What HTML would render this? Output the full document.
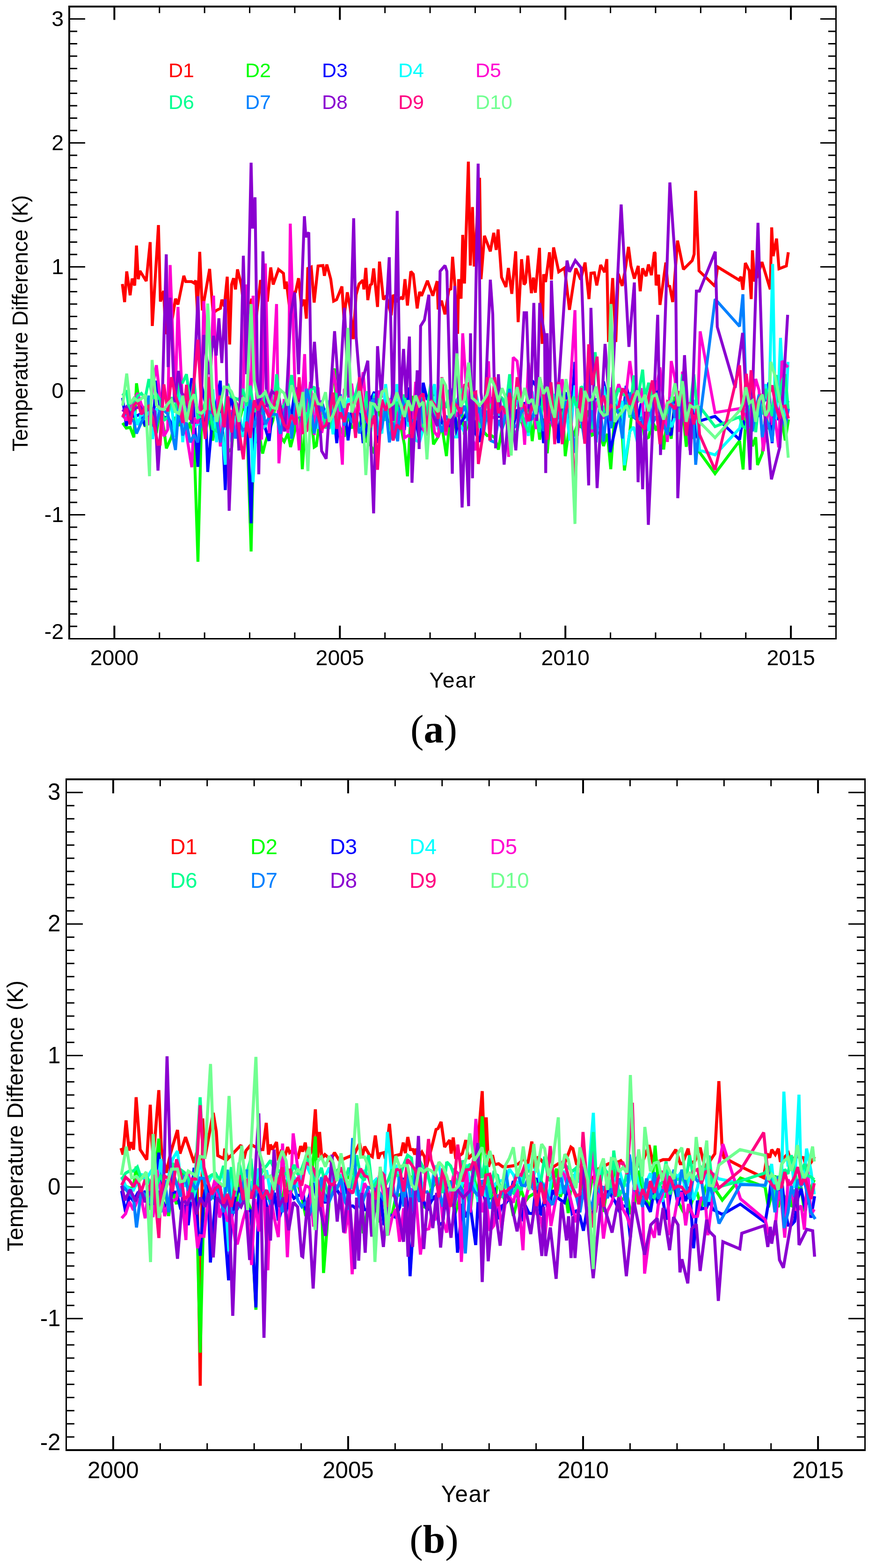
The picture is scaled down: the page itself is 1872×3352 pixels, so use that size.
<!DOCTYPE html>
<html><head><meta charset="utf-8"><title>Temperature Difference</title>
<style>html,body{margin:0;padding:0;background:#fff;} svg{display:block;}</style></head>
<body>
<svg width="1872" height="3352" viewBox="0 0 1872 3352"><polyline points="261.5,607.2 266.3,645.8 270.8,580.1 278.1,631.2 282.3,595.7 287.9,610.3 291.7,524.9 295.4,596.8 299.0,579.1 312.5,600.9 320.9,517.6 325.5,696.8 338.6,481.1 342.8,644.7 349.6,621.8 354.2,713.5 365.7,696.8 375.1,638.5 380.3,651.0 392.8,589.5 397.0,602.0 409.5,602.0 414.7,605.1 418.4,599.9 422.0,669.7 426.8,538.4 432.4,663.5 448.0,574.9 455.3,669.7 462.6,663.5 471.0,659.3 474.1,640.5 479.3,655.1 485.6,591.6 490.8,736.4 494.9,608.2 499.1,594.7 503.3,618.7 507.5,575.9 515.8,609.3 521.0,659.3 531.4,669.7 537.7,638.5 542.1,721.8 552.5,638.5 556.7,598.9 571.3,644.7 578.6,571.8 583.8,608.2 595.2,575.9 605.7,584.3 608.8,617.6 611.9,602.0 619.2,661.4 623.4,626.0 631.7,623.9 638.0,594.7 644.2,655.1 650.5,640.5 654.7,681.2 657.8,573.8 665.1,570.7 671.3,646.8 679.7,568.6 690.1,567.6 693.2,589.5 698.4,565.5 706.8,596.8 713.0,643.7 719.3,640.5 730.7,612.4 734.9,680.2 742.2,624.9 748.5,659.3 754.7,725.0 761.0,630.1 767.2,607.2 775.6,598.9 777.6,618.7 781.8,572.8 786.0,641.6 791.2,609.3 794.3,607.2 798.5,573.8 806.8,656.2 811.0,559.2 819.3,640.5 825.6,632.2 836.0,673.9 840.4,630.2 848.8,642.7 857.1,636.4 861.3,639.6 865.4,596.8 870.7,653.1 877.9,580.2 883.2,586.4 891.5,659.4 896.7,623.9 900.9,632.3 913.4,600.0 924.9,632.3 934.2,601.0 936.3,661.5 943.6,642.7 950.9,671.9 959.2,619.8 963.4,617.7 967.2,548.9 971.8,607.3 978.0,713.6 980.1,596.8 985.3,638.5 988.8,502.0 992.6,606.2 1000.9,345.6 1005.1,567.6 1009.7,442.6 1013.4,569.7 1024.9,380.0 1028.0,596.8 1035.3,504.1 1047.8,537.4 1055.1,497.8 1060.4,534.3 1064.5,490.5 1071.8,592.7 1081.2,613.5 1086.4,572.9 1093.7,628.1 1102.0,537.4 1107.3,688.6 1114.6,554.1 1119.8,608.3 1123.1,603.9 1127.9,546.6 1135.6,626.8 1139.8,593.5 1144.0,625.8 1152.9,529.9 1158.6,735.2 1161.7,586.2 1165.9,602.9 1174.2,539.3 1178.4,597.6 1183.0,528.9 1194.0,581.0 1206.5,572.6 1216.9,662.3 1230.5,573.7 1240.9,597.6 1250.3,561.2 1258.6,639.3 1262.8,584.1 1270.1,583.1 1275.3,610.2 1283.6,566.4 1292.0,582.0 1296.8,553.9 1300.3,731.1 1309.3,594.5 1316.0,731.1 1321.2,585.1 1329.5,611.2 1335.8,578.9 1343.1,527.8 1348.3,568.5 1355.6,595.6 1363.9,568.5 1368.1,622.7 1373.3,573.7 1380.6,590.4 1385.8,565.3 1392.0,588.3 1398.3,539.3 1400.0,541.4 1402.1,610.2 1407.3,587.2 1410.4,651.8 1422.9,561.2 1427.1,610.2 1431.3,612.2 1437.5,645.6 1440.7,610.2 1447.9,514.3 1460.5,575.8 1479.2,557.0 1483.4,543.4 1486.5,407.9 1493.8,578.9 1528.2,612.2 1533.4,570.5 1579.3,598.7 1583.4,591.4 1587.6,619.5 1592.8,562.2 1601.2,578.9 1605.3,639.3 1608.0,535.1 1612.6,601.8 1618.9,589.3 1628.3,560.1 1646.0,618.5 1649.1,486.1 1652.2,547.6 1659.5,510.1 1664.7,574.7 1680.4,568.5 1684.6,539.3" fill="none" stroke="#ff0000" stroke-width="6.2" stroke-linejoin="miter" stroke-miterlimit="2" stroke-linecap="butt"/>
<polyline points="262.0,904.1 270.0,915.2 278.1,913.5 286.1,935.0 291.7,819.5 302.1,889.3 310.2,912.1 318.2,880.4 326.2,897.4 334.3,926.1 342.3,873.4 350.3,917.7 355.6,958.5 366.4,934.3 374.4,891.4 382.4,910.5 390.5,888.3 398.5,928.0 406.5,902.7 414.6,937.8 423.0,1201.0 430.6,900.6 438.7,895.7 446.7,892.9 454.7,941.9 462.7,880.1 470.8,845.0 478.8,963.5 486.8,966.6 494.9,958.9 502.9,878.1 510.9,902.6 519.0,869.9 527.0,882.2 536.6,1179.0 543.0,897.3 551.1,912.9 561.3,969.6 567.1,946.0 575.2,921.6 583.2,898.7 591.2,845.0 599.3,933.4 607.3,944.2 615.3,926.5 621.0,955.7 631.4,915.1 639.4,861.4 646.0,1003.0 655.5,868.2 663.5,871.4 671.5,955.9 676.0,953.0 687.6,865.2 695.6,904.0 703.6,872.6 715.0,787.6 719.7,897.6 727.7,916.7 735.8,933.6 743.8,884.7 751.8,913.8 759.9,913.2 767.9,910.7 775.9,884.7 783.9,943.8 790.0,947.4 800.0,969.1 808.0,865.8 816.1,904.5 824.1,855.0 832.1,907.4 840.2,932.6 848.2,890.6 856.2,909.7 864.2,950.3 870.7,1018.3 880.3,846.2 888.3,894.8 896.4,892.7 904.4,916.6 912.4,930.8 920.5,876.3 926.3,950.0 936.5,933.2 944.5,911.7 954.0,975.0 960.6,900.5 968.6,868.1 976.7,935.9 984.7,857.8 992.7,930.0 1000.8,901.8 1008.8,935.9 1016.8,914.7 1024.8,905.4 1032.9,922.0 1040.9,931.3 1048.9,930.4 1057.0,935.3 1065.0,961.1 1073.0,916.1 1081.1,893.2 1089.1,875.8 1097.1,884.8 1105.1,845.0 1113.2,896.1 1121.2,922.8 1129.2,845.0 1137.3,943.1 1145.3,873.7 1153.3,940.0 1161.4,894.9 1169.4,969.1 1177.4,876.1 1185.4,912.5 1193.5,940.4 1201.5,849.2 1207.9,975.2 1217.6,905.5 1225.6,932.7 1233.6,908.5 1241.7,912.7 1249.7,882.1 1257.7,879.6 1265.7,930.1 1273.8,926.0 1281.8,925.4 1289.8,953.5 1297.9,927.4 1305.2,1003.0 1313.9,883.2 1322.0,861.6 1330.0,934.9 1334.4,1005.8 1346.0,922.4 1354.1,845.0 1362.1,908.7 1370.1,889.8 1378.2,939.3 1386.2,935.0 1394.2,900.1 1402.3,920.3 1410.3,894.9 1418.3,960.9 1426.3,884.2 1434.4,938.0 1442.4,847.7 1450.4,917.0 1458.5,869.2 1466.5,955.1 1474.5,892.3 1482.6,937.6 1490.6,923.8 1495.0,966.8 1528.0,1012.4 1580.5,942.3 1588.0,1003.5 1594.0,884.6 1601.0,910.1 1608.0,954.0 1615.0,934.8 1618.8,994.0 1629.0,969.1 1636.0,881.1 1643.0,915.3 1650.0,915.7 1657.0,874.4 1664.0,884.0 1671.0,899.4 1678.0,941.5 1685.0,896.4" fill="none" stroke="#00ff00" stroke-width="6.2" stroke-linejoin="miter" stroke-miterlimit="2" stroke-linecap="butt"/>
<polyline points="262.0,850.5 270.0,910.6 278.1,873.6 286.1,890.0 294.1,888.1 302.1,884.1 310.2,910.6 318.2,889.2 326.2,912.6 334.3,813.8 342.3,872.2 350.3,893.6 358.4,891.0 366.4,905.3 374.4,919.7 382.4,895.0 390.5,862.7 398.5,889.4 409.8,808.4 414.6,888.0 423.0,998.0 430.6,823.2 438.7,860.3 443.9,1009.0 454.7,887.3 462.7,860.5 470.8,813.8 481.4,1047.7 486.8,889.6 494.9,843.4 502.9,913.4 510.9,891.4 519.0,847.8 527.0,859.0 536.6,1118.6 543.0,855.7 551.1,947.3 559.1,842.7 567.1,916.2 575.2,942.5 583.2,870.3 591.2,854.6 599.3,897.1 607.3,920.5 615.3,879.6 623.3,882.5 631.4,828.4 639.4,852.8 647.4,873.4 655.5,839.3 663.5,888.2 671.5,914.9 679.6,858.9 687.6,858.9 695.6,888.5 703.6,909.6 711.7,872.0 719.7,947.3 727.7,854.9 735.8,862.3 743.8,941.4 751.8,878.3 759.9,916.3 767.9,852.5 775.9,947.3 783.9,914.5 792.0,854.2 800.0,837.6 808.0,947.3 816.1,899.0 824.1,868.4 832.1,903.2 840.2,821.5 848.2,924.7 856.2,867.4 864.2,919.4 872.3,828.4 880.3,881.4 888.3,894.4 896.4,944.3 904.4,818.2 912.4,852.6 920.5,852.6 928.5,838.3 936.5,867.6 944.5,904.3 952.6,910.2 960.6,910.2 968.6,829.7 976.7,934.7 984.7,902.7 992.7,892.5 1000.8,872.2 1008.8,859.2 1016.8,926.9 1024.8,944.7 1032.9,880.7 1040.9,835.5 1048.9,852.5 1057.0,872.5 1065.0,892.3 1073.0,869.7 1081.1,889.6 1089.1,850.2 1097.1,910.0 1105.1,875.6 1113.2,884.7 1121.2,860.4 1129.2,872.2 1137.3,813.8 1145.3,824.9 1153.3,825.0 1161.4,947.3 1169.4,893.2 1177.4,903.1 1185.4,860.8 1193.5,947.3 1201.5,837.0 1209.5,841.0 1217.6,928.9 1228.7,773.7 1233.6,910.3 1241.7,878.9 1249.7,856.8 1257.7,813.8 1265.7,887.9 1273.8,852.1 1281.8,874.8 1289.8,815.3 1297.9,853.0 1303.8,966.9 1313.9,920.5 1322.0,887.7 1330.0,910.7 1338.0,824.7 1346.0,856.2 1354.1,891.9 1362.1,897.3 1370.1,862.6 1378.2,906.6 1386.2,915.1 1394.2,862.7 1402.3,813.8 1410.3,889.7 1418.3,901.2 1426.3,924.0 1434.4,930.1 1442.4,861.1 1450.4,849.0 1458.5,880.2 1466.5,868.2 1474.5,876.2 1482.6,875.4 1490.6,937.2 1495.0,900.0 1528.0,890.0 1580.5,940.0 1587.0,898.2 1594.0,910.9 1601.0,892.9 1608.0,848.9 1615.0,895.6 1622.0,886.3 1629.0,850.4 1636.0,856.6 1643.0,817.7 1650.0,947.3 1657.0,848.8 1664.0,898.4 1671.0,875.6 1678.0,849.5 1684.5,860.7" fill="none" stroke="#0000ff" stroke-width="6.2" stroke-linejoin="miter" stroke-miterlimit="2" stroke-linecap="butt"/>
<polyline points="262.0,893.3 270.0,885.9 278.1,857.4 286.1,873.0 294.1,908.6 302.1,883.3 310.2,892.9 318.2,878.1 326.2,938.6 334.3,874.9 342.3,875.1 350.3,828.9 358.4,872.3 366.4,865.6 374.4,934.6 382.4,821.2 390.5,945.2 398.5,845.2 406.5,894.6 414.6,913.5 422.6,905.8 430.6,906.4 438.7,870.1 446.7,887.0 454.7,832.1 462.7,945.2 470.8,883.3 481.4,993.5 486.8,856.5 494.9,945.2 502.9,895.0 510.9,876.0 519.0,934.3 527.0,849.3 535.0,877.0 540.8,1031.0 551.1,850.2 559.1,917.0 567.1,910.7 575.2,890.2 583.2,857.4 591.2,853.9 599.3,907.6 607.3,904.1 615.3,910.7 623.3,903.3 631.4,891.4 639.4,887.7 647.4,821.2 655.5,900.6 663.5,893.1 671.5,867.4 679.6,916.0 687.6,895.9 695.6,882.7 703.6,856.5 711.7,928.5 719.7,836.0 727.7,895.3 735.8,877.4 743.8,854.0 751.8,860.4 759.9,846.7 767.9,877.2 775.9,883.9 783.9,872.3 792.0,917.5 800.0,841.4 808.0,909.9 816.1,926.6 824.1,821.2 832.1,887.9 840.2,923.8 848.2,821.2 856.2,894.6 864.2,846.6 872.3,911.8 880.3,891.8 888.3,941.4 896.4,945.2 904.4,916.8 912.4,885.9 920.5,855.7 928.5,821.2 936.5,918.7 944.5,848.4 952.6,904.0 960.6,888.5 968.6,934.2 976.7,934.2 984.7,910.0 992.7,924.3 1000.8,883.3 1008.8,907.4 1016.8,840.1 1024.8,877.9 1032.9,877.5 1040.9,844.0 1048.9,865.4 1057.0,884.5 1065.0,886.3 1073.0,887.4 1081.1,846.1 1089.1,856.2 1097.1,870.6 1105.1,855.7 1113.2,902.0 1121.2,865.6 1129.2,931.9 1137.3,836.8 1145.3,880.1 1153.3,876.9 1161.4,862.6 1169.4,883.5 1177.4,892.0 1185.4,842.2 1193.5,879.2 1201.5,914.8 1209.5,868.1 1217.6,941.9 1228.7,823.7 1233.6,889.1 1241.7,881.6 1249.7,821.2 1257.7,821.2 1265.7,879.2 1273.8,861.7 1281.8,845.6 1289.8,825.3 1297.9,887.7 1305.9,878.5 1313.9,841.0 1322.0,873.9 1330.0,857.2 1334.4,994.6 1346.0,922.3 1354.1,912.8 1362.1,945.2 1370.1,892.2 1378.2,837.1 1386.2,921.4 1394.2,840.7 1402.3,848.8 1410.3,885.1 1418.3,883.5 1426.3,880.3 1434.4,912.9 1442.4,892.9 1450.4,884.8 1458.5,862.1 1466.5,855.9 1474.5,908.8 1482.6,854.8 1490.6,910.0 1495.0,962.4 1528.0,972.4 1580.5,915.7 1587.0,887.6 1594.0,873.9 1601.0,902.2 1608.0,905.7 1615.0,890.2 1622.0,850.1 1629.0,886.7 1636.0,821.2 1643.0,875.8 1651.2,564.3 1657.0,898.3 1664.0,825.8 1667.9,722.3 1678.0,898.3 1684.0,773.6" fill="none" stroke="#00ffff" stroke-width="6.2" stroke-linejoin="miter" stroke-miterlimit="2" stroke-linecap="butt"/>
<polyline points="262.0,886.4 270.0,898.9 278.1,873.2 286.1,857.3 294.1,840.2 302.1,864.7 310.2,880.5 318.2,908.9 326.2,827.6 334.3,780.7 342.3,852.8 350.3,932.7 358.4,918.1 363.6,566.5 374.4,856.5 380.3,656.2 390.5,871.7 398.5,929.0 409.8,998.8 414.6,893.2 422.6,905.1 430.6,838.0 435.5,643.7 446.7,898.5 456.4,632.2 462.7,823.3 470.8,954.4 478.8,880.9 486.8,919.3 494.9,876.5 502.9,935.6 510.9,866.2 519.0,869.3 525.2,608.2 535.0,922.8 540.8,632.2 551.1,925.1 559.1,939.1 567.1,563.4 575.2,926.1 583.2,805.3 591.0,650.0 596.0,990.5 607.3,852.9 615.3,925.7 620.3,478.0 631.4,865.0 639.4,962.7 651.0,757.0 655.5,880.9 663.5,816.3 671.5,929.9 679.6,828.2 687.6,925.5 695.6,884.9 703.6,911.8 711.7,790.5 719.7,837.2 731.7,993.3 735.8,833.3 743.8,822.5 751.8,822.7 759.9,899.5 767.9,871.0 775.9,795.7 783.9,888.3 792.0,857.3 800.0,868.4 808.0,835.0 816.1,886.6 824.1,875.4 832.1,854.5 840.2,861.8 848.2,913.1 856.2,819.8 864.2,936.1 872.3,931.0 880.3,935.3 888.3,816.1 896.4,886.4 904.4,918.8 912.4,927.5 920.5,845.0 928.5,923.2 936.5,934.7 944.5,834.8 952.6,930.7 960.6,884.4 968.6,867.7 976.7,890.9 984.7,870.2 988.8,712.5 1000.8,894.7 1008.8,934.0 1016.8,962.7 1024.8,878.2 1032.9,886.0 1043.9,772.3 1048.9,891.9 1057.0,892.7 1065.0,905.5 1073.0,894.8 1081.1,858.8 1087.0,976.6 1096.7,764.0 1105.1,771.9 1113.2,841.9 1121.2,950.8 1129.2,775.4 1137.3,848.9 1145.3,917.2 1153.3,819.2 1161.4,866.4 1169.4,899.9 1177.4,900.9 1185.4,920.0 1193.5,864.7 1201.5,810.7 1209.5,884.5 1217.6,845.0 1228.7,663.0 1233.6,931.7 1241.7,853.7 1249.7,883.5 1257.7,923.4 1265.7,921.7 1273.8,868.1 1281.8,844.3 1289.8,895.5 1297.9,864.4 1305.9,829.0 1313.9,851.6 1322.0,821.3 1330.0,842.8 1338.0,841.4 1346.0,771.9 1354.1,834.3 1362.1,860.4 1370.1,829.7 1378.2,916.0 1386.2,885.2 1394.2,825.3 1402.3,833.9 1410.3,785.2 1418.3,866.7 1426.3,944.8 1434.4,771.9 1442.4,809.4 1450.4,923.4 1458.5,794.4 1466.5,865.6 1474.5,962.7 1482.6,889.6 1490.6,894.3 1496.2,708.4 1528.0,882.0 1580.5,873.4 1587.0,882.0 1594.0,887.4 1601.0,915.7 1608.0,855.7 1615.0,810.2 1622.0,834.2 1631.0,964.6 1636.0,928.2 1643.0,861.0 1650.0,904.7 1657.0,900.7 1664.0,956.3 1671.0,771.9 1679.0,780.0 1684.0,785.0" fill="none" stroke="#ff00d0" stroke-width="6.2" stroke-linejoin="miter" stroke-miterlimit="2" stroke-linecap="butt"/>
<polyline points="262.0,845.7 270.0,834.5 278.1,889.9 286.1,864.1 294.1,846.3 302.1,841.0 310.2,851.9 318.2,810.4 326.2,852.0 334.3,843.0 342.3,855.8 350.3,899.0 358.4,891.2 366.4,848.9 374.4,882.0 382.4,818.2 390.5,817.5 398.5,800.0 406.5,862.9 414.6,814.3 422.6,893.2 430.6,890.1 438.7,859.2 446.7,852.3 454.7,917.1 462.7,921.6 470.8,849.8 478.8,891.7 486.8,820.4 494.9,848.4 502.9,851.4 510.9,854.8 519.0,831.2 527.0,867.3 535.0,824.6 543.0,880.1 551.1,869.8 559.1,885.4 567.1,841.4 575.2,860.8 583.2,891.7 591.2,800.0 599.3,874.5 607.3,866.0 615.3,848.4 623.3,801.8 631.4,867.1 639.4,837.8 647.4,858.6 655.5,912.4 663.5,834.7 671.5,826.8 679.6,870.3 687.6,862.5 695.6,913.7 703.6,914.5 711.7,875.5 719.7,840.4 727.7,878.2 735.8,851.9 743.8,828.7 751.8,858.7 759.9,842.2 767.9,812.1 775.9,904.9 783.9,836.4 792.0,924.0 800.0,847.1 808.0,855.0 816.1,880.7 824.1,899.1 832.1,864.1 837.4,939.0 848.2,858.6 856.2,893.3 864.2,843.2 872.3,897.7 880.3,872.5 888.3,875.5 896.4,818.3 904.4,913.5 912.4,876.3 920.5,821.3 928.5,884.7 936.5,904.7 944.5,852.3 952.6,872.0 960.6,833.2 968.6,893.7 976.7,855.4 984.7,839.1 992.7,826.3 1000.8,900.1 1008.8,813.0 1016.8,893.0 1024.8,914.1 1032.9,894.9 1040.9,856.7 1048.9,873.1 1057.0,846.8 1065.0,844.9 1073.0,851.0 1081.1,870.8 1089.1,800.0 1097.1,924.0 1105.1,921.7 1113.2,879.5 1121.2,905.2 1129.2,924.0 1137.3,889.4 1145.3,887.8 1153.3,924.0 1161.4,832.4 1169.4,817.2 1177.4,819.5 1185.4,879.5 1193.5,856.9 1201.5,900.6 1209.5,854.9 1217.6,885.2 1225.6,847.9 1233.6,873.8 1241.7,826.4 1249.7,833.5 1257.7,819.3 1265.7,917.3 1271.8,752.8 1281.8,848.1 1289.8,881.9 1297.9,848.3 1305.9,851.7 1313.9,855.8 1322.0,830.3 1330.0,842.8 1338.0,845.7 1346.0,892.8 1354.1,802.6 1362.1,857.6 1373.3,790.3 1378.2,850.7 1386.2,818.3 1394.2,856.7 1402.3,854.5 1410.3,857.3 1418.3,886.4 1426.3,881.7 1434.4,867.1 1442.4,866.0 1450.4,895.9 1458.5,800.0 1466.5,895.8 1474.5,872.5 1482.6,800.0 1490.6,884.7 1495.0,869.0 1528.0,912.0 1580.5,891.2 1587.0,911.2 1594.0,915.5 1601.0,862.3 1608.0,847.5 1615.0,924.0 1622.0,856.7 1629.0,884.5 1636.0,831.2 1643.0,855.9 1650.0,889.6 1658.8,801.7 1664.0,860.3 1671.0,815.5 1678.0,800.0 1684.5,876.0" fill="none" stroke="#00ff90" stroke-width="6.2" stroke-linejoin="miter" stroke-miterlimit="2" stroke-linecap="butt"/>
<polyline points="262.0,888.5 270.0,884.2 278.1,892.4 286.1,901.2 291.7,926.8 302.1,902.7 310.2,887.6 318.2,845.9 326.2,904.2 334.3,908.2 342.3,872.9 350.3,877.2 358.4,885.1 366.4,918.1 375.0,962.0 382.4,866.4 390.5,931.2 398.5,903.1 406.5,945.7 414.6,929.5 422.6,945.7 430.6,896.0 438.7,928.8 446.7,879.9 454.7,883.5 462.7,894.4 470.8,945.7 478.8,905.6 486.8,890.0 494.9,884.9 502.9,937.2 510.9,903.7 519.0,919.6 527.0,914.2 535.0,854.8 543.0,914.2 551.1,889.5 559.1,860.4 567.1,907.1 575.2,892.1 583.2,885.0 591.2,886.5 599.3,927.5 607.3,886.1 615.3,845.3 623.3,937.7 631.4,861.2 639.4,884.7 647.4,908.9 655.5,831.3 663.5,864.3 671.5,926.6 679.6,886.1 687.6,870.2 695.6,894.5 703.6,866.8 711.7,890.6 719.7,867.3 727.7,842.8 735.8,910.0 743.8,882.0 751.8,903.2 759.9,884.5 767.9,926.3 775.9,906.9 783.9,894.7 792.0,859.9 800.0,852.1 808.0,930.6 816.1,913.8 824.1,867.9 832.1,945.7 840.2,903.2 849.9,943.2 856.2,848.5 864.2,866.6 872.3,898.9 880.3,900.2 888.3,896.5 896.4,840.1 904.4,902.1 912.4,898.2 920.5,877.3 928.5,892.3 936.5,894.8 944.5,923.9 952.6,888.9 960.6,902.6 968.6,851.4 976.7,867.7 984.7,889.3 992.7,867.2 1000.8,899.3 1008.8,855.0 1016.8,888.7 1024.8,869.9 1032.9,929.6 1040.9,877.5 1048.9,942.2 1057.0,945.7 1065.0,898.2 1073.0,917.1 1081.1,883.3 1089.1,831.3 1097.1,914.9 1105.1,908.3 1113.2,882.0 1121.2,872.8 1129.2,894.1 1137.3,895.0 1145.3,866.2 1153.3,872.0 1161.4,921.4 1169.4,891.0 1177.4,887.4 1185.4,922.0 1193.5,880.2 1201.5,915.8 1209.5,857.6 1217.6,882.4 1228.7,968.2 1233.6,907.3 1241.7,892.3 1249.7,945.7 1257.7,924.5 1265.7,877.0 1273.8,945.7 1281.8,861.6 1289.8,944.0 1297.9,864.4 1305.9,915.4 1313.9,863.7 1322.0,884.3 1330.0,937.4 1338.0,848.8 1346.0,842.7 1354.1,890.6 1362.1,897.2 1370.1,893.6 1378.2,919.5 1386.2,853.6 1394.2,905.8 1402.3,890.1 1410.3,913.7 1418.3,908.4 1426.3,929.1 1434.4,848.5 1442.4,893.4 1450.4,857.8 1458.5,888.1 1466.5,910.6 1474.5,898.9 1482.6,906.3 1486.7,993.5 1495.0,900.4 1528.2,639.3 1580.5,697.7 1587.6,629.0 1594.0,835.9 1600.0,900.0 1608.0,922.0 1615.0,877.8 1622.0,843.7 1629.0,934.7 1636.0,895.1 1643.0,908.6 1650.0,944.5 1657.0,865.1 1664.0,889.2 1671.0,886.2 1678.0,912.4 1685.0,874.0" fill="none" stroke="#0080ff" stroke-width="6.2" stroke-linejoin="miter" stroke-miterlimit="2" stroke-linecap="butt"/>
<polyline points="262.0,880.0 270.0,870.0 278.0,885.0 290.0,872.0 300.0,870.0 310.0,884.0 320.0,868.0 331.0,880.0 337.6,1006.0 346.0,880.0 355.3,543.7 359.4,784.7 363.6,636.4 373.0,860.0 381.3,793.0 388.0,840.0 396.0,850.0 410.5,905.6 423.0,633.3 430.0,860.0 435.5,716.0 446.0,800.0 456.4,718.0 462.0,760.0 467.8,680.5 474.0,776.0 481.4,639.5 489.7,1092.0 498.0,880.0 505.0,860.0 510.6,963.0 520.0,546.7 527.0,800.0 536.6,347.7 539.8,488.4 545.0,421.7 553.0,1014.0 561.9,537.4 570.0,870.0 580.8,836.0 596.0,850.0 608.6,922.4 621.3,671.8 629.6,625.0 638.0,800.0 650.5,462.3 653.6,507.0 659.9,496.7 665.0,830.0 672.0,730.6 687.3,964.0 697.0,980.7 715.0,708.0 725.0,850.0 736.0,658.0 745.0,850.0 755.8,466.5 761.0,719.8 770.0,830.0 786.0,771.0 798.4,1097.5 806.8,740.0 815.0,850.0 831.8,549.9 840.0,900.0 848.8,450.9 855.0,870.0 862.4,745.9 868.0,850.0 874.9,719.5 880.4,1032.0 891.6,791.7 895.7,960.0 898.8,697.0 907.0,684.0 916.5,630.0 922.0,880.0 934.6,911.0 940.5,580.0 951.0,567.6 955.0,580.0 966.6,1012.7 971.8,611.4 987.5,1085.0 994.0,900.0 1001.4,1082.0 1005.5,712.5 1009.7,1022.4 1021.8,349.8 1027.8,839.0 1035.0,900.0 1047.8,597.9 1053.0,672.0 1059.2,958.5 1065.0,800.0 1077.3,993.3 1090.0,850.0 1102.3,962.7 1110.0,850.0 1120.0,668.5 1125.2,668.5 1133.0,900.0 1140.8,647.7 1147.0,900.0 1153.4,647.7 1163.8,718.6 1166.2,1011.3 1169.0,712.3 1174.0,900.0 1178.4,599.7 1190.0,880.0 1211.7,557.0 1217.0,581.0 1229.4,557.0 1242.0,572.6 1258.0,1037.7 1262.8,658.0 1276.0,1043.3 1293.0,735.2 1305.0,900.0 1327.4,437.1 1344.0,741.5 1355.6,603.9 1363.6,1030.8 1368.0,900.0 1373.3,1046.0 1379.0,880.0 1385.5,1122.0 1405.5,673.0 1411.5,972.6 1431.5,390.0 1443.7,568.3 1448.4,1065.0 1462.8,759.3 1475.5,972.6 1488.2,622.4 1494.6,622.4 1528.5,538.0 1532.8,698.8 1571.0,829.0 1587.0,711.6 1602.9,1004.5 1619.8,476.3 1631.5,861.0 1648.6,1024.7 1666.5,955.5 1683.2,673.0" fill="none" stroke="#8a00d0" stroke-width="6.2" stroke-linejoin="miter" stroke-miterlimit="2" stroke-linecap="butt"/>
<polyline points="262.0,892.3 270.0,873.6 278.1,907.5 286.1,866.2 294.1,857.4 302.1,886.0 310.2,870.2 318.2,867.9 326.2,893.6 337.6,949.7 342.3,949.5 350.3,821.8 358.4,879.8 366.4,806.4 374.4,845.1 382.4,866.9 390.5,904.0 398.5,822.5 406.5,898.0 414.6,815.5 423.0,726.0 430.6,870.5 438.7,938.4 446.7,806.4 454.7,881.6 462.7,893.2 470.8,845.7 478.8,913.3 486.8,847.4 494.9,924.5 502.9,856.2 510.9,919.4 520.0,982.0 527.0,901.5 535.0,936.1 543.0,855.9 551.1,877.0 559.1,857.6 567.1,874.3 575.2,892.0 583.2,876.8 591.2,836.1 599.3,885.2 607.3,908.2 615.3,916.5 623.3,886.7 631.4,907.7 639.4,806.4 647.4,924.7 655.5,920.9 663.5,890.1 671.5,852.1 679.6,888.6 687.6,916.0 695.6,910.0 703.6,891.8 711.7,839.2 719.7,916.8 727.7,881.5 735.8,902.3 743.8,865.0 751.8,862.1 759.9,936.1 767.9,806.4 775.9,870.4 783.9,898.1 792.0,913.4 800.0,888.2 806.8,1004.4 816.1,854.2 824.1,877.7 832.1,858.7 840.2,941.9 848.2,907.8 856.2,917.9 864.2,871.4 872.3,859.7 880.3,936.2 888.3,884.6 896.4,849.1 904.4,841.5 912.4,922.2 920.5,855.5 928.5,864.4 936.5,895.2 944.5,806.4 952.6,922.4 960.6,888.9 968.6,859.8 976.7,868.2 984.7,884.7 992.7,823.2 1000.8,820.4 1008.8,841.6 1016.8,838.1 1022.2,991.9 1032.9,924.2 1040.9,806.4 1046.7,941.8 1057.0,806.4 1065.0,883.0 1073.0,868.7 1081.1,884.6 1089.1,839.8 1097.1,898.1 1105.1,806.4 1113.2,856.6 1121.2,871.0 1129.2,900.6 1137.3,866.7 1145.3,878.0 1153.3,806.4 1161.4,840.7 1169.4,939.9 1177.4,817.1 1185.4,949.5 1193.5,816.7 1201.5,949.5 1209.5,877.9 1217.6,845.6 1228.7,1061.4 1233.6,921.5 1241.7,828.9 1249.7,948.6 1258.0,736.0 1265.7,822.9 1276.0,762.5 1281.8,868.1 1289.8,845.7 1297.9,882.1 1305.9,866.9 1313.9,873.1 1322.0,869.4 1330.0,830.7 1338.0,840.8 1346.0,865.0 1354.1,841.4 1362.1,899.4 1370.1,908.3 1378.2,917.7 1386.2,846.7 1394.2,813.3 1402.3,874.5 1410.3,949.5 1418.3,898.1 1426.3,859.3 1434.4,866.1 1442.4,874.2 1450.4,838.6 1458.5,841.1 1466.5,931.2 1474.5,860.6 1482.6,907.3 1490.6,868.6 1495.0,929.0 1528.0,1004.6 1580.5,781.0 1587.0,898.0 1594.8,799.0 1601.0,856.7 1605.0,791.5 1615.0,880.6 1622.0,853.9 1628.0,842.7 1636.0,889.7 1643.5,842.7 1650.0,823.7 1657.0,865.8 1666.0,895.0 1671.0,869.4 1678.0,867.9 1685.0,894.7" fill="none" stroke="#ff0080" stroke-width="6.2" stroke-linejoin="miter" stroke-miterlimit="2" stroke-linecap="butt"/>
<polyline points="262.0,867.2 270.8,798.7 278.1,863.4 286.1,850.9 294.1,857.0 302.1,852.5 310.2,844.0 319.5,1018.0 325.0,769.5 334.3,866.0 342.3,874.1 350.3,875.6 358.4,863.2 366.4,855.4 374.4,879.8 382.4,884.1 390.5,845.9 398.5,901.8 406.5,858.7 414.6,842.8 422.6,880.2 430.6,883.5 438.7,874.2 443.9,648.9 454.7,857.5 462.7,901.8 470.8,865.3 478.8,827.2 486.8,828.0 494.9,837.4 502.9,860.4 510.9,901.8 519.0,849.6 527.0,858.7 536.6,650.0 543.0,813.2 551.1,849.2 559.1,846.7 567.1,838.0 575.2,860.8 583.2,871.7 591.2,873.6 599.3,833.7 607.3,840.7 615.3,867.0 623.3,823.5 631.4,849.2 639.4,889.6 647.4,838.0 658.0,1007.0 663.5,889.3 671.5,840.4 679.6,863.2 687.6,864.4 695.6,838.4 703.6,901.8 711.7,887.9 719.7,865.3 727.7,847.4 735.8,871.7 743.3,701.0 751.8,881.9 759.9,857.2 767.9,836.2 775.9,892.5 781.8,1015.5 792.0,861.9 800.0,864.2 808.0,878.1 816.1,837.8 824.1,832.7 832.1,869.0 840.2,863.2 848.2,838.9 856.2,865.4 864.2,891.2 872.3,855.8 880.3,878.0 888.3,845.4 896.4,867.4 904.4,859.1 912.4,982.0 920.5,857.4 928.5,870.9 936.5,880.7 944.5,808.4 952.6,824.7 960.6,893.9 968.6,881.9 976.3,755.6 984.7,869.6 992.7,853.6 1001.4,775.0 1008.8,850.6 1016.8,857.5 1024.8,866.6 1032.9,856.3 1040.9,843.8 1048.9,808.1 1057.0,825.8 1065.0,859.3 1073.0,829.8 1081.1,850.9 1092.5,973.8 1097.1,856.9 1105.1,827.7 1113.2,869.9 1121.2,829.2 1129.2,862.2 1137.3,853.3 1145.3,885.6 1153.3,806.4 1161.4,842.0 1169.4,827.3 1177.4,866.0 1185.4,892.8 1193.5,821.9 1201.5,872.9 1209.5,810.3 1217.6,858.6 1228.7,1120.0 1233.6,873.4 1241.7,900.8 1249.7,835.6 1257.7,855.9 1265.7,854.1 1273.8,826.3 1281.8,877.4 1289.8,888.4 1297.9,885.0 1305.5,649.8 1313.9,901.8 1322.0,888.1 1330.0,879.9 1338.0,866.2 1346.0,886.2 1354.1,858.0 1362.1,834.7 1370.1,860.7 1378.2,844.0 1386.2,879.4 1394.2,847.8 1402.3,843.3 1410.3,873.1 1418.3,896.9 1426.3,861.6 1434.4,857.2 1442.4,819.5 1450.4,868.4 1458.5,814.7 1466.5,901.8 1474.5,866.4 1482.6,871.5 1490.6,868.7 1495.0,902.3 1528.0,935.7 1580.5,877.9 1587.0,863.1 1594.0,827.9 1601.0,861.6 1608.0,856.3 1615.0,901.8 1622.0,856.9 1629.0,843.3 1636.0,889.0 1643.0,875.3 1647.3,773.6 1657.0,806.4 1666.5,858.0 1671.0,878.3 1678.0,901.8 1684.5,978.5" fill="none" stroke="#70ff90" stroke-width="6.2" stroke-linejoin="miter" stroke-miterlimit="2" stroke-linecap="butt"/>
<rect x="146.00" y="12.00" width="4.00" height="1355.00" fill="#000"/>
<rect x="1785.00" y="12.00" width="3.00" height="1355.00" fill="#000"/>
<rect x="146.00" y="12.00" width="1642.00" height="4.00" fill="#000"/>
<rect x="146.00" y="1364.00" width="1642.00" height="3.00" fill="#000"/>
<rect x="150.00" y="1337.50" width="15.04" height="3.00" fill="#000"/>
<rect x="1769.96" y="1337.50" width="15.04" height="3.00" fill="#000"/>
<rect x="150.00" y="1311.00" width="15.04" height="3.00" fill="#000"/>
<rect x="1769.96" y="1311.00" width="15.04" height="3.00" fill="#000"/>
<rect x="150.00" y="1284.50" width="15.04" height="3.00" fill="#000"/>
<rect x="1769.96" y="1284.50" width="15.04" height="3.00" fill="#000"/>
<rect x="150.00" y="1258.00" width="15.04" height="3.00" fill="#000"/>
<rect x="1769.96" y="1258.00" width="15.04" height="3.00" fill="#000"/>
<rect x="150.00" y="1231.50" width="15.04" height="3.00" fill="#000"/>
<rect x="1769.96" y="1231.50" width="15.04" height="3.00" fill="#000"/>
<rect x="150.00" y="1205.00" width="15.04" height="3.00" fill="#000"/>
<rect x="1769.96" y="1205.00" width="15.04" height="3.00" fill="#000"/>
<rect x="150.00" y="1178.50" width="15.04" height="3.00" fill="#000"/>
<rect x="1769.96" y="1178.50" width="15.04" height="3.00" fill="#000"/>
<rect x="150.00" y="1152.00" width="15.04" height="3.00" fill="#000"/>
<rect x="1769.96" y="1152.00" width="15.04" height="3.00" fill="#000"/>
<rect x="150.00" y="1125.50" width="15.04" height="3.00" fill="#000"/>
<rect x="1769.96" y="1125.50" width="15.04" height="3.00" fill="#000"/>
<rect x="150.00" y="1099.00" width="32.00" height="3.00" fill="#000"/>
<rect x="1753.00" y="1099.00" width="32.00" height="3.00" fill="#000"/>
<rect x="150.00" y="1072.50" width="15.04" height="3.00" fill="#000"/>
<rect x="1769.96" y="1072.50" width="15.04" height="3.00" fill="#000"/>
<rect x="150.00" y="1046.00" width="15.04" height="3.00" fill="#000"/>
<rect x="1769.96" y="1046.00" width="15.04" height="3.00" fill="#000"/>
<rect x="150.00" y="1019.50" width="15.04" height="3.00" fill="#000"/>
<rect x="1769.96" y="1019.50" width="15.04" height="3.00" fill="#000"/>
<rect x="150.00" y="993.00" width="15.04" height="3.00" fill="#000"/>
<rect x="1769.96" y="993.00" width="15.04" height="3.00" fill="#000"/>
<rect x="150.00" y="966.50" width="15.04" height="3.00" fill="#000"/>
<rect x="1769.96" y="966.50" width="15.04" height="3.00" fill="#000"/>
<rect x="150.00" y="940.00" width="15.04" height="3.00" fill="#000"/>
<rect x="1769.96" y="940.00" width="15.04" height="3.00" fill="#000"/>
<rect x="150.00" y="913.50" width="15.04" height="3.00" fill="#000"/>
<rect x="1769.96" y="913.50" width="15.04" height="3.00" fill="#000"/>
<rect x="150.00" y="887.00" width="15.04" height="3.00" fill="#000"/>
<rect x="1769.96" y="887.00" width="15.04" height="3.00" fill="#000"/>
<rect x="150.00" y="860.50" width="15.04" height="3.00" fill="#000"/>
<rect x="1769.96" y="860.50" width="15.04" height="3.00" fill="#000"/>
<rect x="150.00" y="834.00" width="32.00" height="3.00" fill="#000"/>
<rect x="1753.00" y="834.00" width="32.00" height="3.00" fill="#000"/>
<rect x="150.00" y="807.50" width="15.04" height="3.00" fill="#000"/>
<rect x="1769.96" y="807.50" width="15.04" height="3.00" fill="#000"/>
<rect x="150.00" y="781.00" width="15.04" height="3.00" fill="#000"/>
<rect x="1769.96" y="781.00" width="15.04" height="3.00" fill="#000"/>
<rect x="150.00" y="754.50" width="15.04" height="3.00" fill="#000"/>
<rect x="1769.96" y="754.50" width="15.04" height="3.00" fill="#000"/>
<rect x="150.00" y="728.00" width="15.04" height="3.00" fill="#000"/>
<rect x="1769.96" y="728.00" width="15.04" height="3.00" fill="#000"/>
<rect x="150.00" y="701.50" width="15.04" height="3.00" fill="#000"/>
<rect x="1769.96" y="701.50" width="15.04" height="3.00" fill="#000"/>
<rect x="150.00" y="675.00" width="15.04" height="3.00" fill="#000"/>
<rect x="1769.96" y="675.00" width="15.04" height="3.00" fill="#000"/>
<rect x="150.00" y="648.50" width="15.04" height="3.00" fill="#000"/>
<rect x="1769.96" y="648.50" width="15.04" height="3.00" fill="#000"/>
<rect x="150.00" y="622.00" width="15.04" height="3.00" fill="#000"/>
<rect x="1769.96" y="622.00" width="15.04" height="3.00" fill="#000"/>
<rect x="150.00" y="595.50" width="15.04" height="3.00" fill="#000"/>
<rect x="1769.96" y="595.50" width="15.04" height="3.00" fill="#000"/>
<rect x="150.00" y="569.00" width="32.00" height="3.00" fill="#000"/>
<rect x="1753.00" y="569.00" width="32.00" height="3.00" fill="#000"/>
<rect x="150.00" y="542.50" width="15.04" height="3.00" fill="#000"/>
<rect x="1769.96" y="542.50" width="15.04" height="3.00" fill="#000"/>
<rect x="150.00" y="516.00" width="15.04" height="3.00" fill="#000"/>
<rect x="1769.96" y="516.00" width="15.04" height="3.00" fill="#000"/>
<rect x="150.00" y="489.50" width="15.04" height="3.00" fill="#000"/>
<rect x="1769.96" y="489.50" width="15.04" height="3.00" fill="#000"/>
<rect x="150.00" y="463.00" width="15.04" height="3.00" fill="#000"/>
<rect x="1769.96" y="463.00" width="15.04" height="3.00" fill="#000"/>
<rect x="150.00" y="436.50" width="15.04" height="3.00" fill="#000"/>
<rect x="1769.96" y="436.50" width="15.04" height="3.00" fill="#000"/>
<rect x="150.00" y="410.00" width="15.04" height="3.00" fill="#000"/>
<rect x="1769.96" y="410.00" width="15.04" height="3.00" fill="#000"/>
<rect x="150.00" y="383.50" width="15.04" height="3.00" fill="#000"/>
<rect x="1769.96" y="383.50" width="15.04" height="3.00" fill="#000"/>
<rect x="150.00" y="357.00" width="15.04" height="3.00" fill="#000"/>
<rect x="1769.96" y="357.00" width="15.04" height="3.00" fill="#000"/>
<rect x="150.00" y="330.50" width="15.04" height="3.00" fill="#000"/>
<rect x="1769.96" y="330.50" width="15.04" height="3.00" fill="#000"/>
<rect x="150.00" y="304.00" width="32.00" height="3.00" fill="#000"/>
<rect x="1753.00" y="304.00" width="32.00" height="3.00" fill="#000"/>
<rect x="150.00" y="277.50" width="15.04" height="3.00" fill="#000"/>
<rect x="1769.96" y="277.50" width="15.04" height="3.00" fill="#000"/>
<rect x="150.00" y="251.00" width="15.04" height="3.00" fill="#000"/>
<rect x="1769.96" y="251.00" width="15.04" height="3.00" fill="#000"/>
<rect x="150.00" y="224.50" width="15.04" height="3.00" fill="#000"/>
<rect x="1769.96" y="224.50" width="15.04" height="3.00" fill="#000"/>
<rect x="150.00" y="198.00" width="15.04" height="3.00" fill="#000"/>
<rect x="1769.96" y="198.00" width="15.04" height="3.00" fill="#000"/>
<rect x="150.00" y="171.50" width="15.04" height="3.00" fill="#000"/>
<rect x="1769.96" y="171.50" width="15.04" height="3.00" fill="#000"/>
<rect x="150.00" y="145.00" width="15.04" height="3.00" fill="#000"/>
<rect x="1769.96" y="145.00" width="15.04" height="3.00" fill="#000"/>
<rect x="150.00" y="118.50" width="15.04" height="3.00" fill="#000"/>
<rect x="1769.96" y="118.50" width="15.04" height="3.00" fill="#000"/>
<rect x="150.00" y="92.00" width="15.04" height="3.00" fill="#000"/>
<rect x="1769.96" y="92.00" width="15.04" height="3.00" fill="#000"/>
<rect x="150.00" y="65.50" width="15.04" height="3.00" fill="#000"/>
<rect x="1769.96" y="65.50" width="15.04" height="3.00" fill="#000"/>
<rect x="150.00" y="39.00" width="32.00" height="3.00" fill="#000"/>
<rect x="1753.00" y="39.00" width="32.00" height="3.00" fill="#000"/>
<rect x="242.38" y="1337.50" width="4.00" height="26.50" fill="#000"/>
<rect x="242.38" y="16.00" width="4.00" height="26.50" fill="#000"/>
<rect x="339.26" y="1351.94" width="3.00" height="12.06" fill="#000"/>
<rect x="339.26" y="16.00" width="3.00" height="12.06" fill="#000"/>
<rect x="435.65" y="1351.94" width="3.00" height="12.06" fill="#000"/>
<rect x="435.65" y="16.00" width="3.00" height="12.06" fill="#000"/>
<rect x="532.03" y="1351.94" width="3.00" height="12.06" fill="#000"/>
<rect x="532.03" y="16.00" width="3.00" height="12.06" fill="#000"/>
<rect x="628.41" y="1351.94" width="3.00" height="12.06" fill="#000"/>
<rect x="628.41" y="16.00" width="3.00" height="12.06" fill="#000"/>
<rect x="724.29" y="1337.50" width="4.00" height="26.50" fill="#000"/>
<rect x="724.29" y="16.00" width="4.00" height="26.50" fill="#000"/>
<rect x="821.18" y="1351.94" width="3.00" height="12.06" fill="#000"/>
<rect x="821.18" y="16.00" width="3.00" height="12.06" fill="#000"/>
<rect x="917.56" y="1351.94" width="3.00" height="12.06" fill="#000"/>
<rect x="917.56" y="16.00" width="3.00" height="12.06" fill="#000"/>
<rect x="1013.94" y="1351.94" width="3.00" height="12.06" fill="#000"/>
<rect x="1013.94" y="16.00" width="3.00" height="12.06" fill="#000"/>
<rect x="1110.32" y="1351.94" width="3.00" height="12.06" fill="#000"/>
<rect x="1110.32" y="16.00" width="3.00" height="12.06" fill="#000"/>
<rect x="1206.21" y="1337.50" width="4.00" height="26.50" fill="#000"/>
<rect x="1206.21" y="16.00" width="4.00" height="26.50" fill="#000"/>
<rect x="1303.09" y="1351.94" width="3.00" height="12.06" fill="#000"/>
<rect x="1303.09" y="16.00" width="3.00" height="12.06" fill="#000"/>
<rect x="1399.47" y="1351.94" width="3.00" height="12.06" fill="#000"/>
<rect x="1399.47" y="16.00" width="3.00" height="12.06" fill="#000"/>
<rect x="1495.85" y="1351.94" width="3.00" height="12.06" fill="#000"/>
<rect x="1495.85" y="16.00" width="3.00" height="12.06" fill="#000"/>
<rect x="1592.24" y="1351.94" width="3.00" height="12.06" fill="#000"/>
<rect x="1592.24" y="16.00" width="3.00" height="12.06" fill="#000"/>
<rect x="1688.12" y="1337.50" width="4.00" height="26.50" fill="#000"/>
<rect x="1688.12" y="16.00" width="4.00" height="26.50" fill="#000"/>
<polyline points="258.6,2454.3 262.9,2468.3 269.4,2395.1 275.9,2459.7 280.2,2441.4 285.5,2457.6 290.9,2345.6 299.5,2457.6 313.6,2479.1 321.1,2361.7 324.3,2438.2 327.6,2477.0 339.4,2330.5 344.8,2455.4 355.6,2507.1 364.2,2466.2 379.3,2415.6 384.6,2466.2 396.5,2430.7 414.8,2485.6 420.2,2464.0 427.9,2962.5 433.1,2390.8 437.4,2477.0 455.7,2378.9 462.2,2418.8 465.4,2470.5 478.3,2477.0 480.5,2455.4 487.0,2477.0 515.0,2447.9 521.4,2477.0 525.7,2459.7 536.5,2446.8 556.5,2457.6 561.8,2457.6 569.0,2400.5 573.7,2468.3 578.0,2446.8 582.3,2457.6 590.9,2441.4 595.2,2481.3 601.7,2457.6 606.0,2481.3 614.6,2452.2 618.9,2464.0 627.6,2457.6 636.2,2477.0 642.6,2450.0 646.9,2461.9 652.3,2442.5 657.7,2477.0 667.4,2457.6 673.9,2371.4 679.3,2474.8 682.9,2419.9 687.9,2477.0 694.3,2468.3 703.0,2475.9 705.1,2483.4 714.8,2464.0 726.6,2483.4 735.3,2477.0 748.2,2471.6 752.5,2477.0 768.7,2443.6 774.0,2472.7 779.4,2451.1 789.1,2468.3 795.6,2472.7 802.0,2427.4 808.5,2477.0 812.8,2466.2 820.4,2464.0 823.6,2477.0 832.2,2402.6 840.8,2494.2 845.1,2470.5 853.7,2468.3 856.5,2468.3 861.8,2442.5 866.2,2465.1 871.5,2430.7 876.9,2457.6 882.3,2457.6 886.6,2468.3 888.8,2455.4 893.1,2477.0 901.7,2463.0 907.1,2472.7 910.3,2498.5 923.2,2450.0 931.9,2414.5 936.2,2412.3 942.6,2398.3 950.2,2452.2 960.9,2437.1 964.2,2466.2 968.5,2431.7 973.9,2477.0 987.9,2466.2 995.4,2437.1 1000.8,2477.0 1020.2,2455.4 1030.5,2332.6 1035.3,2466.2 1039.1,2388.6 1043.9,2494.2 1052.5,2469.4 1056.8,2489.9 1065.4,2487.7 1074.0,2494.2 1082.7,2494.2 1097.7,2492.0 1108.5,2487.7 1119.3,2477.0 1127.9,2487.7 1136.5,2440.3 1143.0,2498.5 1150.0,2472.7 1162.9,2487.7 1175.9,2498.5 1193.1,2487.7 1208.2,2483.4 1220.0,2452.2 1224.3,2455.4 1231.9,2487.7 1246.9,2498.5 1266.3,2520.1 1279.3,2498.5 1300.8,2487.7 1322.3,2483.4 1326.6,2481.3 1337.4,2498.5 1354.7,2498.5 1371.9,2487.7 1387.0,2447.9 1395.6,2487.7 1417.1,2479.1 1430.1,2479.1 1444.1,2457.6 1453.7,2487.7 1458.6,2487.7 1470.5,2455.4 1475.9,2487.7 1485.5,2481.3 1496.3,2453.3 1501.7,2477.0 1508.2,2500.7 1518.9,2479.1 1527.6,2466.2 1536.2,2311.1 1542.6,2444.7 1546.9,2474.8 1581.8,2493.1 1632.0,2517.9 1639.6,2466.2 1645.0,2474.8 1649.3,2457.6 1656.8,2468.3 1663.3,2455.4 1667.6,2483.4 1684.8,2465.1 1689.1,2479.1 1704.2,2472.7 1717.1,2474.8 1724.7,2498.5 1740.8,2472.7" fill="none" stroke="#ff0000" stroke-width="6.5" stroke-linejoin="miter" stroke-miterlimit="2" stroke-linecap="butt"/>
<polyline points="260.0,2548.9 268.4,2535.6 276.7,2539.5 285.1,2539.7 291.0,2494.0 301.9,2564.1 310.2,2556.8 318.6,2586.0 327.0,2551.9 339.4,2434.0 343.7,2549.5 352.1,2534.9 360.4,2599.5 368.8,2544.7 377.2,2574.4 385.6,2498.9 393.9,2523.9 402.3,2522.2 410.7,2550.5 419.0,2531.6 427.9,2891.6 435.8,2558.5 444.1,2562.8 452.5,2552.1 460.9,2565.9 469.3,2565.6 477.6,2556.8 486.0,2569.3 494.4,2527.3 502.7,2593.7 511.1,2525.7 519.5,2566.4 527.8,2564.2 536.2,2586.8 546.9,2800.0 553.0,2555.8 561.3,2543.5 569.7,2563.9 578.1,2546.2 586.4,2498.2 594.8,2537.3 603.2,2565.0 611.5,2522.0 619.9,2552.5 628.3,2532.1 636.7,2531.6 645.0,2559.8 653.4,2599.5 661.8,2558.6 673.9,2429.6 678.5,2559.5 686.9,2536.5 691.4,2721.3 703.6,2564.1 712.0,2514.2 720.4,2503.2 728.7,2518.5 737.1,2516.1 745.5,2518.0 753.8,2498.2 762.2,2543.6 770.6,2548.8 776.2,2636.5 787.3,2574.4 795.7,2592.5 804.1,2573.7 809.6,2613.0 820.8,2535.5 829.2,2592.1 837.5,2599.5 845.9,2557.7 854.3,2554.1 862.6,2550.2 871.0,2530.0 879.4,2514.3 887.8,2542.4 896.1,2531.6 904.5,2579.6 912.9,2581.9 921.2,2542.2 929.6,2530.2 938.0,2528.4 946.3,2532.2 954.7,2526.8 963.1,2526.1 971.5,2598.1 979.8,2569.5 988.2,2536.0 996.6,2532.1 1004.9,2591.4 1013.3,2515.9 1021.7,2561.2 1030.5,2386.5 1038.4,2541.1 1046.8,2527.8 1055.2,2589.1 1063.5,2521.0 1071.9,2546.7 1080.3,2570.5 1088.6,2556.6 1097.0,2599.5 1105.4,2567.1 1113.7,2543.7 1122.1,2568.8 1130.5,2558.1 1138.9,2553.0 1147.2,2547.5 1155.6,2520.1 1164.0,2549.5 1172.3,2556.2 1180.7,2533.7 1189.1,2498.2 1197.4,2558.5 1205.8,2534.4 1214.2,2593.2 1222.6,2511.0 1230.9,2530.3 1239.3,2511.4 1247.7,2550.5 1256.0,2578.2 1264.4,2523.9 1272.8,2527.7 1281.1,2573.2 1289.5,2590.3 1297.9,2536.2 1306.3,2553.7 1314.6,2498.2 1323.0,2566.1 1331.4,2563.7 1339.7,2552.0 1348.1,2595.7 1356.5,2573.8 1364.8,2502.6 1373.2,2552.5 1381.6,2566.0 1390.0,2584.6 1399.9,2449.0 1406.7,2530.3 1415.1,2541.6 1423.4,2559.8 1431.8,2540.3 1440.2,2538.1 1448.5,2568.0 1457.3,2585.0 1465.3,2599.5 1473.7,2585.1 1482.0,2557.4 1490.4,2551.9 1498.8,2581.6 1507.1,2539.6 1515.5,2519.2 1523.9,2536.2 1543.5,2565.6 1582.4,2518.4 1635.0,2537.5 1642.0,2581.0 1649.0,2554.5 1656.0,2512.5 1663.0,2580.8 1670.0,2547.1 1677.0,2559.8 1684.0,2574.1 1691.0,2577.3 1698.0,2546.0 1705.0,2540.0 1712.0,2540.2 1719.0,2589.5 1726.0,2557.0 1733.0,2539.1 1740.0,2522.2" fill="none" stroke="#00ff00" stroke-width="6.5" stroke-linejoin="miter" stroke-miterlimit="2" stroke-linecap="butt"/>
<polyline points="260.0,2545.8 268.4,2591.3 276.7,2556.4 285.1,2567.7 293.5,2551.9 301.9,2563.7 310.2,2545.8 318.6,2567.6 327.0,2583.0 339.4,2464.0 343.7,2556.4 352.1,2578.6 360.4,2575.5 368.8,2548.3 377.2,2548.7 385.6,2582.4 393.9,2578.9 402.3,2619.1 414.8,2496.4 419.0,2574.8 427.9,2684.5 435.8,2556.8 444.1,2517.9 449.6,2699.0 460.9,2559.6 469.3,2526.9 477.6,2595.2 488.5,2737.0 494.4,2610.2 502.7,2558.9 511.1,2538.6 519.5,2562.2 527.8,2578.9 536.2,2591.2 546.9,2795.0 553.0,2539.0 561.3,2543.5 569.7,2575.9 578.1,2603.6 586.4,2549.6 594.8,2609.3 603.2,2583.5 611.5,2589.2 619.9,2547.6 628.3,2561.9 636.7,2555.5 648.3,2554.5 653.4,2587.6 661.8,2553.5 670.1,2528.8 678.5,2569.6 686.9,2550.7 695.2,2572.1 703.6,2539.6 712.0,2549.8 720.4,2543.9 728.7,2558.7 737.1,2522.4 745.5,2578.7 753.8,2577.9 762.2,2585.2 770.6,2551.4 778.9,2586.0 787.3,2586.7 795.7,2548.1 804.1,2535.9 812.4,2552.4 820.8,2619.1 829.2,2595.3 837.5,2598.7 845.9,2602.5 854.3,2580.0 862.6,2517.9 871.0,2577.2 876.3,2728.2 887.8,2548.9 896.1,2566.6 904.5,2565.1 912.9,2587.8 921.2,2568.6 929.6,2556.3 938.0,2619.1 946.3,2613.8 954.7,2538.0 963.1,2544.8 971.5,2582.8 977.7,2678.0 988.2,2573.7 996.6,2602.1 1004.9,2578.1 1016.6,2661.5 1021.7,2564.8 1030.0,2535.7 1038.4,2574.8 1046.8,2558.1 1055.2,2529.6 1063.5,2606.1 1071.9,2578.3 1080.3,2572.9 1088.6,2560.6 1097.0,2524.8 1105.4,2549.3 1113.7,2610.6 1122.1,2576.2 1130.5,2593.7 1138.9,2594.4 1147.2,2517.9 1155.6,2598.4 1164.0,2561.9 1172.3,2588.6 1180.7,2544.3 1189.1,2558.6 1197.4,2564.9 1205.8,2570.7 1214.2,2536.5 1222.6,2594.7 1230.9,2589.0 1239.3,2599.9 1246.8,2631.0 1256.0,2576.8 1264.4,2597.7 1272.8,2580.3 1281.1,2517.9 1289.5,2571.6 1297.9,2544.6 1306.3,2555.5 1314.6,2568.9 1323.0,2588.0 1331.4,2577.9 1339.7,2578.5 1346.9,2646.0 1356.5,2517.9 1364.8,2542.5 1373.2,2565.3 1381.6,2574.3 1390.0,2590.7 1398.3,2541.8 1406.7,2573.8 1415.1,2555.1 1423.4,2607.5 1431.8,2557.9 1440.2,2517.9 1448.5,2576.7 1456.9,2546.0 1465.3,2567.5 1473.7,2537.5 1482.3,2668.5 1490.4,2566.8 1498.8,2584.3 1510.0,2582.0 1515.5,2567.4 1523.9,2585.9 1543.5,2596.2 1582.0,2574.0 1635.2,2613.0 1642.0,2571.7 1649.0,2517.9 1656.0,2545.6 1663.0,2565.8 1670.0,2517.9 1677.0,2581.3 1684.0,2619.1 1691.0,2619.1 1698.0,2611.3 1705.0,2561.2 1712.0,2541.1 1721.4,2588.0 1726.0,2537.1 1733.0,2603.1 1740.8,2557.3" fill="none" stroke="#0000ff" stroke-width="6.5" stroke-linejoin="miter" stroke-miterlimit="2" stroke-linecap="butt"/>
<polyline points="260.0,2515.6 268.4,2534.7 276.7,2541.5 285.1,2544.0 293.5,2527.6 301.9,2509.3 310.2,2523.2 318.6,2510.6 327.0,2497.6 335.3,2545.9 343.7,2478.0 352.1,2545.7 360.4,2514.1 368.8,2478.0 379.2,2460.8 385.6,2520.6 393.9,2536.5 402.3,2515.1 410.7,2569.1 419.0,2539.9 427.4,2480.7 435.8,2518.2 444.1,2529.6 452.5,2514.1 460.9,2513.0 469.3,2519.7 477.6,2508.9 489.0,2675.0 494.4,2508.6 502.7,2540.6 511.1,2503.7 519.5,2524.1 527.8,2548.8 536.2,2525.4 544.6,2549.0 553.0,2497.9 561.3,2524.3 569.7,2501.9 578.1,2551.8 586.4,2482.6 594.8,2531.2 603.2,2489.0 611.5,2501.9 619.9,2551.4 628.3,2515.4 636.7,2537.3 645.0,2513.2 653.4,2487.3 661.8,2506.1 670.1,2496.5 678.5,2553.2 686.9,2518.4 695.2,2514.5 703.6,2496.0 712.0,2539.2 720.4,2509.1 728.7,2512.7 737.1,2562.1 745.5,2549.9 753.8,2512.3 762.2,2553.3 770.6,2554.6 778.9,2500.9 787.3,2516.3 795.7,2529.5 804.1,2520.9 812.4,2533.8 820.8,2537.1 827.9,2419.9 837.5,2513.8 845.9,2490.1 854.3,2535.5 862.6,2525.3 871.0,2529.1 879.4,2555.4 887.8,2517.2 896.1,2501.6 904.5,2544.9 912.9,2502.5 921.2,2538.0 929.6,2494.4 938.0,2492.8 946.3,2533.2 954.7,2569.1 963.1,2532.3 971.5,2558.7 979.8,2556.8 988.2,2529.9 996.6,2489.1 1004.9,2525.9 1013.3,2529.1 1021.7,2569.1 1030.0,2538.9 1038.4,2558.8 1046.8,2510.4 1055.2,2536.9 1063.5,2524.7 1071.9,2524.0 1080.3,2528.3 1088.6,2499.4 1097.0,2511.2 1105.4,2531.6 1113.7,2519.6 1122.1,2509.6 1130.5,2488.8 1138.9,2520.3 1147.2,2486.9 1155.6,2538.6 1164.0,2529.5 1172.3,2561.2 1180.7,2502.7 1189.1,2549.7 1197.4,2549.7 1205.8,2502.2 1214.2,2537.0 1222.6,2542.6 1230.9,2499.4 1239.3,2528.2 1247.7,2500.2 1256.0,2533.7 1268.0,2379.0 1272.8,2496.2 1281.1,2521.5 1289.5,2478.0 1297.9,2533.6 1306.3,2528.9 1314.6,2521.5 1323.0,2498.1 1331.4,2530.8 1339.7,2534.6 1348.1,2517.1 1356.5,2491.9 1364.8,2534.1 1373.2,2555.9 1381.6,2526.9 1390.0,2507.8 1398.3,2537.3 1406.7,2520.4 1415.1,2569.1 1423.4,2523.0 1431.8,2520.9 1440.2,2507.8 1448.5,2515.7 1456.9,2504.0 1465.3,2548.7 1473.7,2506.8 1482.0,2565.3 1490.4,2538.6 1498.8,2495.6 1507.1,2502.0 1515.5,2569.1 1523.9,2508.6 1536.0,2520.0 1582.0,2530.0 1635.0,2535.0 1642.0,2520.3 1649.0,2488.3 1656.0,2560.0 1663.0,2534.4 1670.0,2527.1 1675.1,2333.7 1684.0,2493.9 1691.0,2479.1 1698.0,2539.4 1707.4,2340.2 1712.0,2530.4 1719.0,2516.7 1723.6,2455.4 1733.0,2502.5 1740.0,2553.0" fill="none" stroke="#00ffff" stroke-width="6.5" stroke-linejoin="miter" stroke-miterlimit="2" stroke-linecap="butt"/>
<polyline points="260.0,2604.1 268.4,2594.7 276.7,2569.5 285.1,2586.9 293.5,2567.0 301.9,2561.6 310.2,2604.4 318.6,2534.1 327.0,2602.1 335.3,2501.0 343.7,2546.2 352.1,2599.7 360.4,2568.5 368.8,2567.9 377.2,2563.1 385.6,2518.2 397.3,2651.0 402.3,2506.9 410.7,2550.2 422.3,2668.5 427.4,2641.3 435.8,2642.8 444.1,2568.3 452.5,2547.8 460.9,2516.1 469.3,2602.8 477.6,2573.7 486.0,2611.3 494.4,2594.8 502.7,2652.9 507.1,2660.0 519.5,2607.4 527.8,2580.0 537.7,2704.3 544.6,2562.7 553.0,2632.4 561.3,2512.9 572.4,2715.5 578.1,2555.9 586.4,2604.8 594.8,2644.6 603.9,2444.7 614.1,2687.5 619.9,2570.2 626.5,2423.0 636.7,2501.0 645.0,2564.3 653.4,2534.9 661.8,2538.7 670.1,2622.1 678.5,2535.0 686.9,2558.0 695.2,2630.5 703.6,2546.5 712.0,2531.8 720.4,2535.8 728.7,2532.6 737.1,2636.4 745.5,2587.4 752.6,2724.0 762.2,2574.7 770.6,2572.5 778.9,2529.5 787.3,2545.2 795.7,2611.9 804.1,2538.9 812.4,2508.4 820.8,2564.0 829.2,2640.5 837.5,2604.2 845.9,2584.5 854.0,2654.6 862.6,2582.8 871.0,2630.6 879.4,2543.5 887.8,2548.1 898.5,2682.0 904.5,2629.9 916.6,2626.8 921.2,2603.9 929.6,2606.0 938.0,2530.1 946.3,2608.9 954.7,2635.0 963.1,2543.6 971.5,2502.0 979.8,2509.1 986.0,2697.7 996.6,2501.0 1004.9,2592.0 1017.0,2391.9 1021.7,2501.0 1030.0,2591.4 1038.4,2559.5 1046.8,2631.2 1055.2,2620.3 1063.5,2553.1 1071.9,2626.0 1080.3,2567.9 1088.6,2557.5 1097.0,2571.1 1105.4,2535.7 1117.6,2672.6 1122.1,2568.7 1130.5,2533.9 1138.9,2513.1 1147.2,2595.4 1155.6,2604.4 1164.0,2652.9 1172.3,2557.9 1177.3,2621.0 1189.1,2557.5 1197.4,2501.0 1205.8,2511.3 1214.2,2541.3 1222.6,2577.3 1230.9,2612.9 1239.3,2571.1 1247.7,2554.5 1256.0,2578.5 1268.5,2445.7 1272.8,2591.9 1281.1,2546.1 1289.5,2647.8 1297.9,2589.1 1306.3,2572.7 1314.6,2546.3 1323.0,2546.0 1331.4,2585.3 1339.7,2600.4 1348.1,2625.1 1356.5,2526.4 1364.8,2550.9 1373.2,2567.0 1377.5,2722.7 1390.0,2623.3 1398.3,2646.0 1406.7,2576.1 1415.1,2555.7 1423.4,2501.0 1431.8,2640.3 1440.2,2608.3 1448.5,2560.1 1456.9,2549.2 1465.3,2619.6 1471.2,2574.0 1482.0,2601.2 1490.4,2600.1 1498.8,2559.4 1507.1,2567.3 1512.9,2640.7 1523.9,2550.0 1544.8,2445.7 1582.4,2562.8 1635.2,2607.3 1642.0,2636.0 1649.0,2646.5 1656.0,2635.2 1663.0,2546.3 1670.0,2568.0 1677.0,2645.8 1684.0,2521.4 1691.0,2535.9 1698.0,2584.6 1705.0,2587.2 1712.0,2577.5 1719.0,2628.6 1726.0,2501.0 1733.0,2596.8 1740.0,2585.3" fill="none" stroke="#ff00d0" stroke-width="6.5" stroke-linejoin="miter" stroke-miterlimit="2" stroke-linecap="butt"/>
<polyline points="260.0,2521.9 268.4,2507.9 276.7,2503.3 285.1,2503.4 293.5,2494.6 301.9,2519.5 310.2,2508.9 318.6,2524.4 327.0,2551.2 335.3,2532.9 343.7,2511.7 352.1,2538.3 360.4,2519.9 368.8,2486.8 377.2,2500.7 385.6,2500.6 393.9,2506.4 402.3,2519.5 410.7,2560.7 419.0,2490.0 427.7,2345.6 435.8,2509.6 444.1,2517.8 452.5,2511.6 460.9,2508.7 469.3,2523.6 477.6,2492.3 486.0,2547.6 494.4,2495.1 502.7,2557.9 511.1,2485.1 519.5,2528.0 527.8,2505.6 536.2,2476.9 544.6,2560.7 553.0,2523.1 561.3,2500.6 569.7,2492.3 578.1,2480.7 586.4,2499.8 594.8,2502.1 603.2,2512.4 611.5,2508.4 619.9,2513.3 628.3,2490.0 636.7,2511.1 645.0,2498.2 653.4,2474.2 661.8,2485.5 670.1,2523.8 678.5,2517.7 686.9,2496.5 695.2,2531.4 703.6,2560.7 712.0,2540.7 720.4,2501.5 728.7,2520.4 737.1,2524.1 745.5,2496.2 753.8,2541.7 762.2,2469.5 770.6,2514.5 778.9,2523.3 787.3,2469.5 795.7,2542.7 804.1,2527.7 812.4,2517.4 820.8,2539.4 829.2,2523.7 837.5,2500.4 845.9,2510.8 854.3,2516.3 862.6,2490.1 871.0,2469.5 879.4,2475.5 887.8,2560.7 896.1,2480.4 904.5,2495.5 912.9,2504.8 921.2,2540.0 929.6,2526.5 938.0,2520.4 946.3,2550.3 954.7,2483.9 963.1,2492.6 971.5,2515.4 979.8,2539.1 988.2,2481.0 996.6,2498.9 1004.9,2488.2 1013.3,2525.7 1021.7,2469.5 1030.0,2518.6 1038.4,2469.5 1046.8,2560.7 1055.2,2507.3 1063.5,2513.0 1071.9,2560.7 1080.3,2531.4 1088.6,2546.1 1097.0,2550.7 1105.4,2534.2 1113.7,2544.7 1122.1,2506.9 1130.5,2503.3 1138.9,2508.3 1147.2,2536.1 1155.6,2527.3 1164.0,2472.6 1172.3,2523.8 1180.7,2515.6 1189.1,2530.0 1197.4,2501.8 1205.8,2492.7 1214.2,2495.0 1222.6,2504.3 1230.9,2497.1 1239.3,2520.5 1247.7,2499.4 1256.0,2540.1 1268.0,2420.0 1272.8,2493.2 1281.1,2540.8 1289.5,2495.4 1297.9,2507.1 1306.3,2546.1 1311.6,2459.7 1323.0,2556.9 1331.4,2541.6 1339.7,2507.0 1348.1,2508.8 1356.5,2484.0 1364.8,2469.5 1373.2,2527.2 1381.6,2560.7 1390.0,2552.8 1398.3,2560.7 1406.7,2532.6 1415.1,2528.8 1423.4,2482.8 1431.8,2553.3 1440.2,2521.4 1448.5,2521.6 1456.9,2518.5 1465.3,2529.7 1473.7,2469.5 1482.0,2519.9 1490.4,2514.2 1498.8,2497.3 1507.1,2509.6 1515.5,2470.3 1523.9,2545.7 1543.5,2535.0 1582.0,2525.0 1635.2,2507.3 1642.0,2492.6 1649.0,2530.6 1656.0,2560.7 1663.0,2513.4 1670.0,2541.7 1677.0,2499.6 1684.0,2509.5 1691.0,2469.5 1698.0,2501.5 1705.0,2536.2 1712.0,2505.9 1719.0,2488.2 1726.0,2513.1 1733.0,2516.0 1740.0,2522.0" fill="none" stroke="#00ff90" stroke-width="6.5" stroke-linejoin="miter" stroke-miterlimit="2" stroke-linecap="butt"/>
<polyline points="260.0,2533.5 268.4,2542.2 276.7,2552.2 285.1,2560.4 291.7,2624.0 301.9,2545.8 310.2,2555.3 318.6,2568.1 327.0,2551.7 335.3,2547.3 343.7,2591.6 352.1,2522.6 360.4,2591.6 368.8,2500.5 377.2,2531.1 385.6,2558.0 393.9,2512.0 402.3,2545.5 410.7,2528.6 419.0,2543.3 427.4,2518.3 435.8,2519.2 444.1,2569.0 452.5,2561.5 460.9,2537.3 469.3,2551.4 477.6,2591.6 486.0,2500.5 494.4,2591.6 502.7,2591.6 511.1,2578.3 519.5,2531.7 527.8,2500.6 536.2,2552.0 544.6,2555.9 553.0,2541.6 561.3,2555.3 569.7,2544.0 578.1,2574.9 586.4,2534.9 594.8,2536.1 603.2,2591.6 611.5,2548.8 619.9,2541.9 628.3,2531.8 636.7,2566.7 645.0,2579.6 653.4,2570.1 660.8,2599.0 670.1,2567.6 678.5,2565.4 686.9,2517.1 695.2,2565.9 703.6,2568.8 712.0,2548.3 720.4,2541.0 728.7,2519.8 737.1,2568.3 745.5,2585.7 753.6,2432.8 762.2,2529.7 770.6,2583.5 778.9,2558.4 787.3,2538.3 795.7,2540.2 804.1,2543.9 812.4,2552.5 820.8,2566.3 829.2,2569.5 837.5,2516.8 845.9,2574.3 854.3,2515.0 862.6,2579.3 871.0,2500.5 879.4,2590.0 887.8,2505.4 896.1,2568.7 904.5,2549.0 912.9,2547.7 921.2,2562.5 929.6,2500.5 938.0,2543.6 946.3,2579.5 954.7,2529.7 963.1,2528.0 971.5,2575.1 979.8,2532.5 988.2,2544.3 994.4,2679.6 1004.9,2528.0 1013.3,2546.2 1021.7,2556.4 1030.0,2523.0 1038.4,2538.1 1046.8,2583.7 1055.2,2559.8 1063.5,2558.3 1071.9,2552.7 1080.3,2500.5 1088.6,2555.6 1097.0,2534.0 1105.4,2504.1 1113.7,2533.3 1122.1,2535.1 1130.5,2513.2 1138.9,2541.0 1147.2,2541.3 1155.6,2528.6 1164.0,2535.6 1172.3,2563.3 1180.7,2575.5 1189.1,2548.9 1197.4,2510.7 1205.8,2551.8 1214.2,2517.0 1222.6,2535.6 1230.9,2553.9 1239.3,2591.6 1247.7,2540.4 1256.0,2553.0 1264.4,2586.5 1272.8,2533.0 1281.1,2546.7 1289.5,2536.5 1297.9,2561.3 1306.3,2540.9 1314.6,2558.0 1323.0,2519.1 1331.4,2542.9 1339.7,2581.5 1345.0,2468.0 1356.5,2544.3 1364.8,2551.2 1373.2,2580.2 1381.6,2519.2 1390.0,2564.6 1398.3,2506.0 1406.7,2562.7 1415.1,2545.2 1423.4,2547.2 1431.8,2542.2 1440.2,2500.5 1448.5,2558.6 1456.9,2500.5 1465.3,2530.3 1473.7,2563.6 1482.0,2514.3 1490.4,2524.8 1498.8,2521.9 1507.1,2579.8 1515.5,2533.3 1523.9,2556.2 1536.5,2615.7 1582.4,2532.3 1635.2,2533.7 1642.0,2505.8 1649.0,2536.5 1656.0,2591.6 1663.0,2514.5 1670.0,2543.8 1675.5,2625.4 1684.0,2591.6 1691.0,2535.9 1698.0,2558.7 1705.0,2521.9 1712.0,2534.5 1719.0,2525.1 1726.0,2555.5 1733.0,2591.6 1742.2,2606.0" fill="none" stroke="#0080ff" stroke-width="6.5" stroke-linejoin="miter" stroke-miterlimit="2" stroke-linecap="butt"/>
<polyline points="260.0,2535.0 267.0,2566.0 278.0,2543.0 290.0,2568.0 300.0,2540.0 310.0,2570.0 320.0,2545.0 330.0,2575.0 340.0,2550.0 349.0,2560.0 357.0,2258.0 366.0,2560.0 379.3,2691.0 390.0,2560.0 400.0,2577.0 410.0,2550.0 419.6,2596.0 428.0,2560.0 438.0,2580.0 446.0,2550.0 455.7,2688.0 464.0,2560.0 472.4,2571.0 481.0,2580.0 489.0,2560.0 497.4,2813.0 506.0,2570.0 515.0,2580.0 524.0,2560.0 533.5,2693.5 541.0,2580.0 553.0,2380.0 558.0,2575.0 564.1,2860.0 571.0,2580.0 578.0,2652.0 585.5,2457.6 596.0,2580.0 606.0,2560.0 617.0,2630.0 627.0,2570.0 636.0,2580.0 644.7,2685.0 647.0,2686.5 658.0,2560.0 669.2,2754.6 680.0,2560.0 695.6,2642.0 709.4,2468.4 720.6,2611.5 727.0,2550.0 734.5,2635.0 745.0,2540.0 758.1,2713.0 762.0,2560.0 766.5,2695.0 773.0,2550.0 780.4,2678.0 787.0,2550.0 794.3,2643.5 805.0,2540.0 819.3,2665.7 830.0,2540.0 845.0,2560.0 862.4,2654.6 867.0,2560.0 872.0,2686.5 877.0,2560.0 881.8,2665.7 894.2,2428.5 905.5,2670.0 915.0,2550.0 924.9,2625.4 933.0,2550.0 941.6,2667.0 952.0,2550.0 963.8,2646.0 975.0,2540.0 990.0,2560.0 1005.0,2545.0 1021.3,2443.6 1030.5,2740.7 1037.0,2560.0 1043.3,2696.3 1055.0,2560.0 1068.9,2663.0 1080.0,2550.0 1092.0,2570.0 1105.0,2632.3 1118.0,2560.0 1134.2,2638.0 1145.0,2560.0 1157.9,2685.0 1162.0,2580.0 1166.2,2685.0 1176.0,2624.0 1188.4,2733.8 1200.0,2570.0 1210.7,2651.8 1215.0,2600.0 1220.4,2689.3 1224.0,2600.0 1228.7,2689.3 1244.0,2493.4 1267.7,2732.4 1285.0,2560.0 1308.0,2635.0 1322.0,2560.0 1338.5,2728.2 1355.0,2570.0 1377.5,2682.4 1390.6,2618.4 1404.5,2604.5 1408.6,2640.7 1417.0,2582.3 1430.9,2672.6 1439.2,2601.8 1449.0,2618.4 1453.1,2720.0 1457.3,2692.0 1469.8,2743.5 1478.1,2626.8 1487.9,2617.0 1496.2,2717.0 1510.1,2607.3 1515.7,2632.3 1526.8,2643.5 1535.1,2781.0 1544.8,2654.6 1581.0,2669.9 1585.2,2636.5 1633.8,2619.8 1640.8,2665.7 1646.3,2622.6 1649.1,2658.7 1657.4,2608.7 1665.8,2693.5 1674.1,2710.2 1703.3,2540.6 1707.5,2661.5 1724.1,2628.0 1736.6,2631.0 1740.8,2686.5" fill="none" stroke="#8a00d0" stroke-width="6.5" stroke-linejoin="miter" stroke-miterlimit="2" stroke-linecap="butt"/>
<polyline points="260.0,2533.8 268.4,2516.6 276.7,2523.9 285.1,2537.0 293.5,2520.7 301.9,2547.5 310.2,2521.7 318.6,2545.0 327.0,2511.4 339.5,2646.5 343.7,2550.7 352.1,2514.3 360.4,2519.5 368.8,2547.3 377.2,2478.5 385.6,2506.6 393.9,2562.4 402.3,2556.9 410.7,2520.3 419.0,2520.4 427.7,2362.8 435.8,2495.0 444.1,2526.4 452.5,2553.4 460.9,2539.7 469.3,2534.2 477.6,2572.8 486.0,2552.6 494.4,2579.8 502.7,2537.4 511.1,2511.9 519.5,2565.3 527.8,2520.1 536.2,2562.4 544.6,2533.8 553.0,2543.7 561.3,2563.3 569.7,2544.6 578.1,2563.6 586.4,2520.9 594.8,2527.9 603.2,2495.4 611.5,2570.3 619.9,2498.4 628.3,2531.4 636.7,2517.8 645.0,2534.5 653.4,2485.7 661.8,2490.2 670.1,2499.1 678.5,2521.9 686.9,2579.8 695.2,2513.5 703.6,2530.1 712.0,2532.9 720.4,2516.9 728.7,2495.6 737.1,2521.6 745.5,2542.3 753.8,2551.0 762.2,2518.8 770.6,2498.3 778.9,2513.8 787.3,2516.3 795.7,2541.8 804.1,2563.9 812.4,2502.6 820.8,2512.1 829.2,2579.8 837.5,2549.3 845.9,2501.0 854.3,2499.1 862.6,2547.2 871.0,2478.5 879.4,2489.7 887.8,2502.3 896.1,2532.8 904.5,2568.3 915.7,2435.0 921.2,2479.2 929.6,2503.5 938.0,2559.5 946.3,2497.1 954.7,2547.9 963.1,2579.8 971.5,2520.2 978.2,2446.8 988.2,2526.0 996.6,2500.7 1004.9,2500.0 1013.3,2478.5 1021.7,2510.3 1030.0,2556.8 1038.4,2511.9 1046.8,2510.1 1055.2,2545.5 1063.5,2578.4 1071.9,2539.7 1080.3,2548.7 1088.6,2540.3 1097.0,2534.4 1105.4,2508.0 1113.7,2512.4 1122.1,2489.1 1130.5,2543.9 1138.9,2503.7 1147.2,2578.2 1155.6,2528.4 1164.0,2573.7 1175.9,2450.0 1180.7,2499.8 1189.1,2555.9 1197.4,2488.7 1205.8,2480.9 1214.2,2514.1 1222.6,2537.6 1230.9,2556.8 1239.3,2552.7 1245.9,2419.9 1256.0,2557.0 1267.7,2624.0 1272.8,2551.1 1281.1,2511.9 1289.5,2579.8 1297.9,2515.6 1306.3,2502.3 1314.6,2557.4 1323.0,2487.8 1331.4,2486.1 1339.7,2509.8 1351.4,2357.4 1356.5,2521.6 1364.8,2574.4 1373.2,2542.0 1381.6,2564.6 1390.0,2524.8 1398.3,2550.1 1406.7,2519.7 1415.1,2503.3 1423.4,2549.0 1431.8,2514.0 1440.2,2540.7 1448.5,2535.4 1456.9,2537.7 1465.3,2550.3 1473.7,2545.2 1482.0,2503.6 1490.4,2499.9 1498.8,2530.2 1507.1,2505.8 1515.5,2501.4 1523.9,2510.9 1536.0,2540.0 1582.4,2501.7 1632.0,2421.0 1642.0,2520.5 1649.0,2532.0 1656.0,2539.2 1663.0,2521.4 1670.0,2539.6 1677.0,2505.5 1684.0,2531.8 1691.0,2529.4 1698.0,2515.7 1705.0,2494.9 1712.0,2533.5 1719.0,2516.6 1726.0,2537.0 1733.0,2563.0 1740.0,2529.3" fill="none" stroke="#ff0080" stroke-width="6.5" stroke-linejoin="miter" stroke-miterlimit="2" stroke-linecap="butt"/>
<polyline points="259.4,2511.7 269.8,2451.3 281.3,2518.0 291.7,2514.9 298.0,2524.2 312.5,2505.5 321.7,2698.0 327.1,2424.2 339.6,2603.4 352.1,2549.2 366.7,2499.2 379.2,2499.2 385.5,2526.3 393.8,2524.2 402.2,2503.4 418.9,2513.8 427.2,2472.1 437.6,2474.2 449.9,2274.5 458.5,2518.0 466.8,2526.3 479.3,2536.7 489.5,2343.0 495.0,2455.4 504.3,2545.0 516.8,2449.2 529.3,2586.8 546.9,2259.4 553.0,2457.8 561.3,2487.2 569.7,2516.5 578.1,2513.8 586.4,2543.8 594.8,2486.2 603.2,2460.2 611.5,2481.8 619.9,2543.8 628.3,2509.0 636.7,2500.8 645.0,2510.5 653.4,2472.1 661.0,2452.0 673.4,2629.6 678.5,2483.2 686.9,2473.2 695.2,2494.0 703.6,2471.5 712.0,2485.1 720.4,2525.0 728.7,2465.5 737.1,2511.0 745.5,2539.5 753.8,2487.1 762.2,2358.5 770.6,2474.0 778.9,2473.0 787.3,2493.4 795.7,2543.8 801.2,2697.7 812.4,2494.2 820.8,2543.8 827.6,2642.0 837.5,2520.5 845.9,2471.4 854.3,2495.1 862.6,2490.7 871.0,2492.1 879.4,2531.8 887.8,2543.8 896.1,2496.8 904.5,2505.7 912.9,2498.6 921.2,2502.4 929.6,2510.9 938.0,2484.2 946.3,2493.4 954.7,2514.0 963.1,2543.8 971.5,2543.8 979.8,2534.7 988.2,2502.1 996.6,2475.2 1004.0,2423.0 1013.3,2481.1 1021.7,2468.9 1030.0,2452.7 1038.4,2491.0 1046.8,2460.4 1055.2,2492.3 1063.5,2529.6 1071.9,2543.8 1080.3,2490.7 1088.6,2475.7 1097.0,2452.7 1105.4,2515.1 1113.7,2485.8 1118.2,2451.0 1130.5,2543.8 1140.8,2445.7 1147.2,2506.4 1157.5,2445.7 1164.0,2455.5 1172.3,2513.8 1180.7,2486.4 1193.1,2388.6 1197.4,2516.4 1207.0,2467.3 1214.2,2478.2 1222.6,2515.7 1230.9,2540.0 1239.3,2452.8 1247.7,2487.1 1256.0,2522.5 1267.7,2713.0 1272.8,2537.8 1281.1,2499.9 1289.5,2476.5 1297.9,2543.8 1306.3,2476.3 1314.6,2477.8 1323.0,2505.1 1331.4,2495.6 1339.7,2506.7 1347.1,2298.2 1356.5,2543.8 1364.8,2457.0 1373.2,2515.2 1378.0,2409.1 1390.0,2504.0 1398.3,2486.7 1406.7,2483.9 1415.1,2524.1 1423.4,2489.1 1431.8,2505.1 1440.2,2520.6 1448.5,2465.4 1457.0,2453.3 1465.3,2521.1 1473.7,2505.9 1482.0,2523.8 1487.7,2430.6 1498.8,2523.1 1510.3,2438.2 1515.5,2534.1 1523.9,2535.2 1536.0,2491.0 1581.4,2457.6 1635.0,2470.0 1642.0,2522.5 1649.0,2510.5 1656.0,2517.9 1663.0,2543.8 1670.0,2489.4 1677.0,2480.6 1684.0,2474.1 1691.0,2503.0 1698.0,2481.3 1704.2,2447.9 1712.0,2500.6 1719.0,2518.5 1726.0,2502.2 1736.5,2451.0 1740.0,2483.1" fill="none" stroke="#70ff90" stroke-width="6.5" stroke-linejoin="miter" stroke-miterlimit="2" stroke-linecap="butt"/>
<rect x="140.00" y="1664.00" width="3.00" height="1438.00" fill="#000"/>
<rect x="1847.00" y="1664.00" width="3.00" height="1438.00" fill="#000"/>
<rect x="140.00" y="1664.00" width="1710.00" height="4.00" fill="#000"/>
<rect x="140.00" y="3098.00" width="1710.00" height="4.00" fill="#000"/>
<rect x="143.00" y="3070.38" width="15.98" height="3.00" fill="#000"/>
<rect x="1831.02" y="3070.38" width="15.98" height="3.00" fill="#000"/>
<rect x="143.00" y="3042.26" width="15.98" height="3.00" fill="#000"/>
<rect x="1831.02" y="3042.26" width="15.98" height="3.00" fill="#000"/>
<rect x="143.00" y="3014.15" width="15.98" height="3.00" fill="#000"/>
<rect x="1831.02" y="3014.15" width="15.98" height="3.00" fill="#000"/>
<rect x="143.00" y="2986.03" width="15.98" height="3.00" fill="#000"/>
<rect x="1831.02" y="2986.03" width="15.98" height="3.00" fill="#000"/>
<rect x="143.00" y="2957.91" width="15.98" height="3.00" fill="#000"/>
<rect x="1831.02" y="2957.91" width="15.98" height="3.00" fill="#000"/>
<rect x="143.00" y="2929.79" width="15.98" height="3.00" fill="#000"/>
<rect x="1831.02" y="2929.79" width="15.98" height="3.00" fill="#000"/>
<rect x="143.00" y="2901.68" width="15.98" height="3.00" fill="#000"/>
<rect x="1831.02" y="2901.68" width="15.98" height="3.00" fill="#000"/>
<rect x="143.00" y="2873.56" width="15.98" height="3.00" fill="#000"/>
<rect x="1831.02" y="2873.56" width="15.98" height="3.00" fill="#000"/>
<rect x="143.00" y="2845.44" width="15.98" height="3.00" fill="#000"/>
<rect x="1831.02" y="2845.44" width="15.98" height="3.00" fill="#000"/>
<rect x="143.00" y="2817.32" width="34.00" height="3.00" fill="#000"/>
<rect x="1813.00" y="2817.32" width="34.00" height="3.00" fill="#000"/>
<rect x="143.00" y="2789.21" width="15.98" height="3.00" fill="#000"/>
<rect x="1831.02" y="2789.21" width="15.98" height="3.00" fill="#000"/>
<rect x="143.00" y="2761.09" width="15.98" height="3.00" fill="#000"/>
<rect x="1831.02" y="2761.09" width="15.98" height="3.00" fill="#000"/>
<rect x="143.00" y="2732.97" width="15.98" height="3.00" fill="#000"/>
<rect x="1831.02" y="2732.97" width="15.98" height="3.00" fill="#000"/>
<rect x="143.00" y="2704.85" width="15.98" height="3.00" fill="#000"/>
<rect x="1831.02" y="2704.85" width="15.98" height="3.00" fill="#000"/>
<rect x="143.00" y="2676.74" width="15.98" height="3.00" fill="#000"/>
<rect x="1831.02" y="2676.74" width="15.98" height="3.00" fill="#000"/>
<rect x="143.00" y="2648.62" width="15.98" height="3.00" fill="#000"/>
<rect x="1831.02" y="2648.62" width="15.98" height="3.00" fill="#000"/>
<rect x="143.00" y="2620.50" width="15.98" height="3.00" fill="#000"/>
<rect x="1831.02" y="2620.50" width="15.98" height="3.00" fill="#000"/>
<rect x="143.00" y="2592.38" width="15.98" height="3.00" fill="#000"/>
<rect x="1831.02" y="2592.38" width="15.98" height="3.00" fill="#000"/>
<rect x="143.00" y="2564.26" width="15.98" height="3.00" fill="#000"/>
<rect x="1831.02" y="2564.26" width="15.98" height="3.00" fill="#000"/>
<rect x="143.00" y="2536.15" width="34.00" height="3.00" fill="#000"/>
<rect x="1813.00" y="2536.15" width="34.00" height="3.00" fill="#000"/>
<rect x="143.00" y="2508.03" width="15.98" height="3.00" fill="#000"/>
<rect x="1831.02" y="2508.03" width="15.98" height="3.00" fill="#000"/>
<rect x="143.00" y="2479.91" width="15.98" height="3.00" fill="#000"/>
<rect x="1831.02" y="2479.91" width="15.98" height="3.00" fill="#000"/>
<rect x="143.00" y="2451.79" width="15.98" height="3.00" fill="#000"/>
<rect x="1831.02" y="2451.79" width="15.98" height="3.00" fill="#000"/>
<rect x="143.00" y="2423.68" width="15.98" height="3.00" fill="#000"/>
<rect x="1831.02" y="2423.68" width="15.98" height="3.00" fill="#000"/>
<rect x="143.00" y="2395.56" width="15.98" height="3.00" fill="#000"/>
<rect x="1831.02" y="2395.56" width="15.98" height="3.00" fill="#000"/>
<rect x="143.00" y="2367.44" width="15.98" height="3.00" fill="#000"/>
<rect x="1831.02" y="2367.44" width="15.98" height="3.00" fill="#000"/>
<rect x="143.00" y="2339.32" width="15.98" height="3.00" fill="#000"/>
<rect x="1831.02" y="2339.32" width="15.98" height="3.00" fill="#000"/>
<rect x="143.00" y="2311.21" width="15.98" height="3.00" fill="#000"/>
<rect x="1831.02" y="2311.21" width="15.98" height="3.00" fill="#000"/>
<rect x="143.00" y="2283.09" width="15.98" height="3.00" fill="#000"/>
<rect x="1831.02" y="2283.09" width="15.98" height="3.00" fill="#000"/>
<rect x="143.00" y="2254.97" width="34.00" height="3.00" fill="#000"/>
<rect x="1813.00" y="2254.97" width="34.00" height="3.00" fill="#000"/>
<rect x="143.00" y="2226.85" width="15.98" height="3.00" fill="#000"/>
<rect x="1831.02" y="2226.85" width="15.98" height="3.00" fill="#000"/>
<rect x="143.00" y="2198.74" width="15.98" height="3.00" fill="#000"/>
<rect x="1831.02" y="2198.74" width="15.98" height="3.00" fill="#000"/>
<rect x="143.00" y="2170.62" width="15.98" height="3.00" fill="#000"/>
<rect x="1831.02" y="2170.62" width="15.98" height="3.00" fill="#000"/>
<rect x="143.00" y="2142.50" width="15.98" height="3.00" fill="#000"/>
<rect x="1831.02" y="2142.50" width="15.98" height="3.00" fill="#000"/>
<rect x="143.00" y="2114.38" width="15.98" height="3.00" fill="#000"/>
<rect x="1831.02" y="2114.38" width="15.98" height="3.00" fill="#000"/>
<rect x="143.00" y="2086.26" width="15.98" height="3.00" fill="#000"/>
<rect x="1831.02" y="2086.26" width="15.98" height="3.00" fill="#000"/>
<rect x="143.00" y="2058.15" width="15.98" height="3.00" fill="#000"/>
<rect x="1831.02" y="2058.15" width="15.98" height="3.00" fill="#000"/>
<rect x="143.00" y="2030.03" width="15.98" height="3.00" fill="#000"/>
<rect x="1831.02" y="2030.03" width="15.98" height="3.00" fill="#000"/>
<rect x="143.00" y="2001.91" width="15.98" height="3.00" fill="#000"/>
<rect x="1831.02" y="2001.91" width="15.98" height="3.00" fill="#000"/>
<rect x="143.00" y="1973.79" width="34.00" height="3.00" fill="#000"/>
<rect x="1813.00" y="1973.79" width="34.00" height="3.00" fill="#000"/>
<rect x="143.00" y="1945.68" width="15.98" height="3.00" fill="#000"/>
<rect x="1831.02" y="1945.68" width="15.98" height="3.00" fill="#000"/>
<rect x="143.00" y="1917.56" width="15.98" height="3.00" fill="#000"/>
<rect x="1831.02" y="1917.56" width="15.98" height="3.00" fill="#000"/>
<rect x="143.00" y="1889.44" width="15.98" height="3.00" fill="#000"/>
<rect x="1831.02" y="1889.44" width="15.98" height="3.00" fill="#000"/>
<rect x="143.00" y="1861.32" width="15.98" height="3.00" fill="#000"/>
<rect x="1831.02" y="1861.32" width="15.98" height="3.00" fill="#000"/>
<rect x="143.00" y="1833.21" width="15.98" height="3.00" fill="#000"/>
<rect x="1831.02" y="1833.21" width="15.98" height="3.00" fill="#000"/>
<rect x="143.00" y="1805.09" width="15.98" height="3.00" fill="#000"/>
<rect x="1831.02" y="1805.09" width="15.98" height="3.00" fill="#000"/>
<rect x="143.00" y="1776.97" width="15.98" height="3.00" fill="#000"/>
<rect x="1831.02" y="1776.97" width="15.98" height="3.00" fill="#000"/>
<rect x="143.00" y="1748.85" width="15.98" height="3.00" fill="#000"/>
<rect x="1831.02" y="1748.85" width="15.98" height="3.00" fill="#000"/>
<rect x="143.00" y="1720.74" width="15.98" height="3.00" fill="#000"/>
<rect x="1831.02" y="1720.74" width="15.98" height="3.00" fill="#000"/>
<rect x="143.00" y="1692.62" width="34.00" height="3.00" fill="#000"/>
<rect x="1813.00" y="1692.62" width="34.00" height="3.00" fill="#000"/>
<rect x="239.91" y="3070.00" width="4.00" height="28.00" fill="#000"/>
<rect x="239.91" y="1668.00" width="4.00" height="28.00" fill="#000"/>
<rect x="340.82" y="3085.26" width="3.00" height="12.74" fill="#000"/>
<rect x="340.82" y="1668.00" width="3.00" height="12.74" fill="#000"/>
<rect x="441.24" y="3085.26" width="3.00" height="12.74" fill="#000"/>
<rect x="441.24" y="1668.00" width="3.00" height="12.74" fill="#000"/>
<rect x="541.65" y="3085.26" width="3.00" height="12.74" fill="#000"/>
<rect x="541.65" y="1668.00" width="3.00" height="12.74" fill="#000"/>
<rect x="642.06" y="3085.26" width="3.00" height="12.74" fill="#000"/>
<rect x="642.06" y="1668.00" width="3.00" height="12.74" fill="#000"/>
<rect x="741.97" y="3070.00" width="4.00" height="28.00" fill="#000"/>
<rect x="741.97" y="1668.00" width="4.00" height="28.00" fill="#000"/>
<rect x="842.88" y="3085.26" width="3.00" height="12.74" fill="#000"/>
<rect x="842.88" y="1668.00" width="3.00" height="12.74" fill="#000"/>
<rect x="943.29" y="3085.26" width="3.00" height="12.74" fill="#000"/>
<rect x="943.29" y="1668.00" width="3.00" height="12.74" fill="#000"/>
<rect x="1043.71" y="3085.26" width="3.00" height="12.74" fill="#000"/>
<rect x="1043.71" y="1668.00" width="3.00" height="12.74" fill="#000"/>
<rect x="1144.12" y="3085.26" width="3.00" height="12.74" fill="#000"/>
<rect x="1144.12" y="1668.00" width="3.00" height="12.74" fill="#000"/>
<rect x="1244.03" y="3070.00" width="4.00" height="28.00" fill="#000"/>
<rect x="1244.03" y="1668.00" width="4.00" height="28.00" fill="#000"/>
<rect x="1344.94" y="3085.26" width="3.00" height="12.74" fill="#000"/>
<rect x="1344.94" y="1668.00" width="3.00" height="12.74" fill="#000"/>
<rect x="1445.35" y="3085.26" width="3.00" height="12.74" fill="#000"/>
<rect x="1445.35" y="1668.00" width="3.00" height="12.74" fill="#000"/>
<rect x="1545.76" y="3085.26" width="3.00" height="12.74" fill="#000"/>
<rect x="1545.76" y="1668.00" width="3.00" height="12.74" fill="#000"/>
<rect x="1646.18" y="3085.26" width="3.00" height="12.74" fill="#000"/>
<rect x="1646.18" y="1668.00" width="3.00" height="12.74" fill="#000"/>
<rect x="1746.09" y="3070.00" width="4.00" height="28.00" fill="#000"/>
<rect x="1746.09" y="1668.00" width="4.00" height="28.00" fill="#000"/>
<text x="136.00" y="56.00" font-family="Liberation Sans, Arial, sans-serif" font-size="46.5" font-weight="normal" text-anchor="end" fill="#000" >3</text>
<text x="136.00" y="321.00" font-family="Liberation Sans, Arial, sans-serif" font-size="46.5" font-weight="normal" text-anchor="end" fill="#000" >2</text>
<text x="136.00" y="586.00" font-family="Liberation Sans, Arial, sans-serif" font-size="46.5" font-weight="normal" text-anchor="end" fill="#000" >1</text>
<text x="136.00" y="851.00" font-family="Liberation Sans, Arial, sans-serif" font-size="46.5" font-weight="normal" text-anchor="end" fill="#000" >0</text>
<text x="136.00" y="1116.00" font-family="Liberation Sans, Arial, sans-serif" font-size="46.5" font-weight="normal" text-anchor="end" fill="#000" >-1</text>
<text x="136.00" y="1366.00" font-family="Liberation Sans, Arial, sans-serif" font-size="46.5" font-weight="normal" text-anchor="end" fill="#000" >-2</text>
<text x="244.38" y="1422.00" font-family="Liberation Sans, Arial, sans-serif" font-size="46.5" font-weight="normal" text-anchor="middle" fill="#000" >2000</text>
<text x="726.29" y="1422.00" font-family="Liberation Sans, Arial, sans-serif" font-size="46.5" font-weight="normal" text-anchor="middle" fill="#000" >2005</text>
<text x="1208.21" y="1422.00" font-family="Liberation Sans, Arial, sans-serif" font-size="46.5" font-weight="normal" text-anchor="middle" fill="#000" >2010</text>
<text x="1690.12" y="1422.00" font-family="Liberation Sans, Arial, sans-serif" font-size="46.5" font-weight="normal" text-anchor="middle" fill="#000" >2015</text>
<text x="967.50" y="1470.00" font-family="Liberation Sans, Arial, sans-serif" font-size="46.5" font-weight="normal" text-anchor="middle" fill="#000" letter-spacing="1.5">Year</text>
<text x="0.00" y="0.00" font-family="Liberation Sans, Arial, sans-serif" font-size="45.5" font-weight="normal" text-anchor="middle" fill="#000" transform="translate(59,691) rotate(-90)">Temperature Difference (K)</text>
<text x="927.00" y="1587.00" font-family="Liberation Serif, Times New Roman, serif" font-size="85.6" font-weight="normal" text-anchor="middle" fill="#000" >(<tspan font-weight="bold">a</tspan>)</text>
<text x="129.50" y="1710.00" font-family="Liberation Sans, Arial, sans-serif" font-size="49.3" font-weight="normal" text-anchor="end" fill="#000" >3</text>
<text x="129.50" y="1991.00" font-family="Liberation Sans, Arial, sans-serif" font-size="49.3" font-weight="normal" text-anchor="end" fill="#000" >2</text>
<text x="129.50" y="2272.50" font-family="Liberation Sans, Arial, sans-serif" font-size="49.3" font-weight="normal" text-anchor="end" fill="#000" >1</text>
<text x="129.50" y="2554.00" font-family="Liberation Sans, Arial, sans-serif" font-size="49.3" font-weight="normal" text-anchor="end" fill="#000" >0</text>
<text x="129.50" y="2835.00" font-family="Liberation Sans, Arial, sans-serif" font-size="49.3" font-weight="normal" text-anchor="end" fill="#000" >-1</text>
<text x="129.50" y="3100.00" font-family="Liberation Sans, Arial, sans-serif" font-size="49.3" font-weight="normal" text-anchor="end" fill="#000" >-2</text>
<text x="241.91" y="3160.00" font-family="Liberation Sans, Arial, sans-serif" font-size="49.3" font-weight="normal" text-anchor="middle" fill="#000" >2000</text>
<text x="743.97" y="3160.00" font-family="Liberation Sans, Arial, sans-serif" font-size="49.3" font-weight="normal" text-anchor="middle" fill="#000" >2005</text>
<text x="1246.03" y="3160.00" font-family="Liberation Sans, Arial, sans-serif" font-size="49.3" font-weight="normal" text-anchor="middle" fill="#000" >2010</text>
<text x="1748.09" y="3160.00" font-family="Liberation Sans, Arial, sans-serif" font-size="49.3" font-weight="normal" text-anchor="middle" fill="#000" >2015</text>
<text x="995.50" y="3211.00" font-family="Liberation Sans, Arial, sans-serif" font-size="49.3" font-weight="normal" text-anchor="middle" fill="#000" letter-spacing="1.5">Year</text>
<text x="0.00" y="0.00" font-family="Liberation Sans, Arial, sans-serif" font-size="48.1" font-weight="normal" text-anchor="middle" fill="#000" transform="translate(49,2385.5) rotate(-90)">Temperature Difference (K)</text>
<text x="927.50" y="3319.00" font-family="Liberation Serif, Times New Roman, serif" font-size="85.6" font-weight="normal" text-anchor="middle" fill="#000" >(<tspan font-weight="bold">b</tspan>)</text>
<text x="360.00" y="165.00" font-family="Liberation Sans, Arial, sans-serif" font-size="43" font-weight="normal" text-anchor="start" fill="#ff0000" >D1</text>
<text x="363.50" y="1826.00" font-family="Liberation Sans, Arial, sans-serif" font-size="45.5" font-weight="normal" text-anchor="start" fill="#ff0000" >D1</text>
<text x="524.00" y="165.00" font-family="Liberation Sans, Arial, sans-serif" font-size="43" font-weight="normal" text-anchor="start" fill="#00ff00" >D2</text>
<text x="535.00" y="1826.00" font-family="Liberation Sans, Arial, sans-serif" font-size="45.5" font-weight="normal" text-anchor="start" fill="#00ff00" >D2</text>
<text x="688.00" y="165.00" font-family="Liberation Sans, Arial, sans-serif" font-size="43" font-weight="normal" text-anchor="start" fill="#0000ff" >D3</text>
<text x="705.00" y="1826.00" font-family="Liberation Sans, Arial, sans-serif" font-size="45.5" font-weight="normal" text-anchor="start" fill="#0000ff" >D3</text>
<text x="851.00" y="165.00" font-family="Liberation Sans, Arial, sans-serif" font-size="43" font-weight="normal" text-anchor="start" fill="#00ffff" >D4</text>
<text x="875.00" y="1826.00" font-family="Liberation Sans, Arial, sans-serif" font-size="45.5" font-weight="normal" text-anchor="start" fill="#00ffff" >D4</text>
<text x="1016.00" y="165.00" font-family="Liberation Sans, Arial, sans-serif" font-size="43" font-weight="normal" text-anchor="start" fill="#ff00d0" >D5</text>
<text x="1047.00" y="1826.00" font-family="Liberation Sans, Arial, sans-serif" font-size="45.5" font-weight="normal" text-anchor="start" fill="#ff00d0" >D5</text>
<text x="360.00" y="233.00" font-family="Liberation Sans, Arial, sans-serif" font-size="43" font-weight="normal" text-anchor="start" fill="#00ff90" >D6</text>
<text x="363.50" y="1898.00" font-family="Liberation Sans, Arial, sans-serif" font-size="45.5" font-weight="normal" text-anchor="start" fill="#00ff90" >D6</text>
<text x="524.00" y="233.00" font-family="Liberation Sans, Arial, sans-serif" font-size="43" font-weight="normal" text-anchor="start" fill="#0080ff" >D7</text>
<text x="535.00" y="1898.00" font-family="Liberation Sans, Arial, sans-serif" font-size="45.5" font-weight="normal" text-anchor="start" fill="#0080ff" >D7</text>
<text x="688.00" y="233.00" font-family="Liberation Sans, Arial, sans-serif" font-size="43" font-weight="normal" text-anchor="start" fill="#8a00d0" >D8</text>
<text x="705.00" y="1898.00" font-family="Liberation Sans, Arial, sans-serif" font-size="45.5" font-weight="normal" text-anchor="start" fill="#8a00d0" >D8</text>
<text x="851.00" y="233.00" font-family="Liberation Sans, Arial, sans-serif" font-size="43" font-weight="normal" text-anchor="start" fill="#ff0080" >D9</text>
<text x="875.00" y="1898.00" font-family="Liberation Sans, Arial, sans-serif" font-size="45.5" font-weight="normal" text-anchor="start" fill="#ff0080" >D9</text>
<text x="1016.00" y="233.00" font-family="Liberation Sans, Arial, sans-serif" font-size="43" font-weight="normal" text-anchor="start" fill="#70ff90" >D10</text>
<text x="1047.00" y="1898.00" font-family="Liberation Sans, Arial, sans-serif" font-size="45.5" font-weight="normal" text-anchor="start" fill="#70ff90" >D10</text></svg>
</body></html>
